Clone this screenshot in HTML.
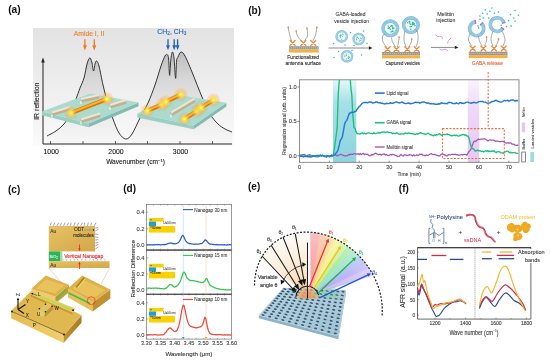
<!DOCTYPE html>
<html><head><meta charset="utf-8"><style>
html,body{margin:0;padding:0;background:#fff;width:550px;height:362px;overflow:hidden}
svg{display:block;font-family:"Liberation Sans", sans-serif;filter:blur(0.35px)}
</style></head><body>
<svg width="550" height="362" viewBox="0 0 550 362">
<text x="8.2" y="12.9" font-size="10.2" fill="#111" text-anchor="start" font-weight="bold" >(a)</text><defs>
<linearGradient id="aBg" x1="0" y1="0" x2="0" y2="1">
<stop offset="0" stop-color="#e3e3e3"/><stop offset="0.5" stop-color="#eeeeee"/><stop offset="0.85" stop-color="#f6f6f6"/><stop offset="1" stop-color="#fbfbfb"/></linearGradient>
<linearGradient id="aFill" x1="0" y1="50" x2="0" y2="144" gradientUnits="userSpaceOnUse">
<stop offset="0" stop-color="#8a8a8a" stop-opacity="0.5"/><stop offset="0.3" stop-color="#a8a8a8" stop-opacity="0.32"/><stop offset="0.7" stop-color="#c8c8c8" stop-opacity="0.22"/><stop offset="1" stop-color="#e0e0e0" stop-opacity="0.1"/></linearGradient>
<radialGradient id="glow"><stop offset="0" stop-color="#ffffa0" stop-opacity="1"/><stop offset="0.28" stop-color="#ffee30" stop-opacity="0.85"/><stop offset="0.6" stop-color="#ffb050" stop-opacity="0.4"/><stop offset="1" stop-color="#ff8040" stop-opacity="0"/></radialGradient>
<linearGradient id="rod" x1="0" y1="0" x2="0" y2="1"><stop offset="0" stop-color="#ffd040"/><stop offset="0.5" stop-color="#e98a00"/><stop offset="1" stop-color="#b85a00"/></linearGradient>
</defs><rect x="33" y="28" width="201" height="118" fill="url(#aBg)"/><path d="M47.00,136.00 C48.50,135.17 53.17,133.00 56.00,131.00 C58.83,129.00 61.67,126.83 64.00,124.00 C66.33,121.17 68.00,118.17 70.00,114.00 C72.00,109.83 74.33,103.33 76.00,99.00 C77.67,94.67 78.67,91.50 80.00,88.00 C81.33,84.50 82.83,82.00 84.00,78.00 C85.17,74.00 86.05,67.33 87.00,64.00 C87.95,60.67 88.90,58.33 89.70,58.00 C90.50,57.67 91.17,59.83 91.80,62.00 C92.43,64.17 92.97,70.67 93.50,71.00 C94.03,71.33 94.50,65.67 95.00,64.00 C95.50,62.33 95.83,60.67 96.50,61.00 C97.17,61.33 97.92,62.00 99.00,66.00 C100.08,70.00 101.50,78.67 103.00,85.00 C104.50,91.33 106.33,98.33 108.00,104.00 C109.67,109.67 111.17,114.17 113.00,119.00 C114.83,123.83 116.87,129.67 119.00,133.00 C121.13,136.33 123.63,138.83 125.80,139.00 C127.97,139.17 129.63,137.50 132.00,134.00 C134.37,130.50 137.33,123.17 140.00,118.00 C142.67,112.83 145.50,108.50 148.00,103.00 C150.50,97.50 152.83,91.17 155.00,85.00 C157.17,78.83 159.33,70.83 161.00,66.00 C162.67,61.17 163.95,57.88 165.00,56.00 C166.05,54.12 166.70,54.20 167.30,54.70 C167.90,55.20 168.22,55.55 168.60,59.00 C168.98,62.45 169.23,75.23 169.60,75.40 C169.97,75.57 170.33,63.90 170.80,60.00 C171.27,56.10 171.87,52.33 172.40,52.00 C172.93,51.67 173.47,53.60 174.00,58.00 C174.53,62.40 175.17,77.90 175.60,78.40 C176.03,78.90 176.20,64.57 176.60,61.00 C177.00,57.43 177.27,58.50 178.00,57.00 C178.73,55.50 179.83,52.17 181.00,52.00 C182.17,51.83 183.17,52.67 185.00,56.00 C186.83,59.33 189.17,65.17 192.00,72.00 C194.83,78.83 199.00,90.00 202.00,97.00 C205.00,104.00 207.33,109.50 210.00,114.00 C212.67,118.50 215.50,121.50 218.00,124.00 C220.50,126.50 222.67,127.67 225.00,129.00 C227.33,130.33 230.83,131.50 232.00,132.00 L232,144 L47,144 Z" fill="url(#aFill)"/><path d="M47.00,136.00 C48.50,135.17 53.17,133.00 56.00,131.00 C58.83,129.00 61.67,126.83 64.00,124.00 C66.33,121.17 68.00,118.17 70.00,114.00 C72.00,109.83 74.33,103.33 76.00,99.00 C77.67,94.67 78.67,91.50 80.00,88.00 C81.33,84.50 82.83,82.00 84.00,78.00 C85.17,74.00 86.05,67.33 87.00,64.00 C87.95,60.67 88.90,58.33 89.70,58.00 C90.50,57.67 91.17,59.83 91.80,62.00 C92.43,64.17 92.97,70.67 93.50,71.00 C94.03,71.33 94.50,65.67 95.00,64.00 C95.50,62.33 95.83,60.67 96.50,61.00 C97.17,61.33 97.92,62.00 99.00,66.00 C100.08,70.00 101.50,78.67 103.00,85.00 C104.50,91.33 106.33,98.33 108.00,104.00 C109.67,109.67 111.17,114.17 113.00,119.00 C114.83,123.83 116.87,129.67 119.00,133.00 C121.13,136.33 123.63,138.83 125.80,139.00 C127.97,139.17 129.63,137.50 132.00,134.00 C134.37,130.50 137.33,123.17 140.00,118.00 C142.67,112.83 145.50,108.50 148.00,103.00 C150.50,97.50 152.83,91.17 155.00,85.00 C157.17,78.83 159.33,70.83 161.00,66.00 C162.67,61.17 163.95,57.88 165.00,56.00 C166.05,54.12 166.70,54.20 167.30,54.70 C167.90,55.20 168.22,55.55 168.60,59.00 C168.98,62.45 169.23,75.23 169.60,75.40 C169.97,75.57 170.33,63.90 170.80,60.00 C171.27,56.10 171.87,52.33 172.40,52.00 C172.93,51.67 173.47,53.60 174.00,58.00 C174.53,62.40 175.17,77.90 175.60,78.40 C176.03,78.90 176.20,64.57 176.60,61.00 C177.00,57.43 177.27,58.50 178.00,57.00 C178.73,55.50 179.83,52.17 181.00,52.00 C182.17,51.83 183.17,52.67 185.00,56.00 C186.83,59.33 189.17,65.17 192.00,72.00 C194.83,78.83 199.00,90.00 202.00,97.00 C205.00,104.00 207.33,109.50 210.00,114.00 C212.67,118.50 215.50,121.50 218.00,124.00 C220.50,126.50 222.67,127.67 225.00,129.00 C227.33,130.33 230.83,131.50 232.00,132.00" fill="none" stroke="#2a2a2a" stroke-width="0.95"/><path d="M43,144 H232 M43,144 V61" stroke="#222" stroke-width="1.0" fill="none"/><path d="M43,57.5 L41.2,62.5 L44.8,62.5 Z" fill="#222"/><path d="M50.5,144 V141" stroke="#222" stroke-width="0.7"/><path d="M83,144 V141" stroke="#222" stroke-width="0.7"/><path d="M115.5,144 V141" stroke="#222" stroke-width="0.7"/><path d="M147.5,144 V141" stroke="#222" stroke-width="0.7"/><path d="M180,144 V141" stroke="#222" stroke-width="0.7"/><path d="M212.5,144 V141" stroke="#222" stroke-width="0.7"/><text x="51.2" y="154.0" font-size="6.9" fill="#222" text-anchor="middle" font-weight="normal"  stroke="#222" stroke-width="0.1">1000</text><text x="116" y="154.0" font-size="6.9" fill="#222" text-anchor="middle" font-weight="normal"  stroke="#222" stroke-width="0.1">2000</text><text x="180.5" y="154.0" font-size="6.9" fill="#222" text-anchor="middle" font-weight="normal"  stroke="#222" stroke-width="0.1">3000</text><text x="135.6" y="164.4" font-size="6.6" fill="#222" text-anchor="middle" font-weight="normal"  stroke="#222" stroke-width="0.1">Wavenumber (cm<tspan font-size="4.3" dy="-2.5">−1</tspan><tspan dy="2.5">)</tspan></text><text x="0" y="0" font-size="7.0" fill="#222" text-anchor="middle" font-weight="normal" transform="translate(38.9,101.2) rotate(-90)" stroke="#222" stroke-width="0.1">IR reflection</text><text x="89" y="35.6" font-size="6.8" fill="#ee7d22" text-anchor="middle" font-weight="normal"  stroke="#ee7d22" stroke-width="0.1">Amide I, II</text><path d="M84.9,39.3 V46" stroke="#ee7d22" stroke-width="1.35"/><path d="M84.9,50.4 L82.9,45.3 L86.9,45.3 Z" fill="#ee7d22"/><path d="M94.3,39.3 V46" stroke="#ee7d22" stroke-width="1.35"/><path d="M94.3,50.4 L92.3,45.3 L96.3,45.3 Z" fill="#ee7d22"/><text x="171.8" y="33.5" font-size="6.7" fill="#2163b4" text-anchor="middle" font-weight="normal" stroke="#2163b4" stroke-width="0.1" textLength="29" lengthAdjust="spacingAndGlyphs">CH<tspan font-size="4.6" dy="1.9">2</tspan><tspan dy="-1.9">, CH</tspan><tspan font-size="4.6" dy="1.9">3</tspan></text><path d="M168,39.3 V46" stroke="#2163b4" stroke-width="1.35"/><path d="M168,50.2 L166.1,45.2 L169.9,45.2 Z" fill="#2163b4"/><path d="M174.2,39.3 V46" stroke="#2163b4" stroke-width="1.35"/><path d="M174.2,50.2 L172.29999999999998,45.2 L176.1,45.2 Z" fill="#2163b4"/><path d="M177.6,39.3 V46" stroke="#2163b4" stroke-width="1.35"/><path d="M177.6,50.2 L175.7,45.2 L179.5,45.2 Z" fill="#2163b4"/><polygon points="42.0,111.5 88.5,123.5 88.5,127.3 42.0,115.3" fill="#98d0c3"/><polygon points="88.5,123.5 138.5,102.5 138.5,106.3 88.5,127.3" fill="#82bcb0"/><polygon points="42.0,111.5 90.0,93.5 138.5,102.5 88.5,123.5" fill="#acdacd"/><line x1="52" y1="114.1" x2="70" y2="108.6" stroke="#c2ae90" stroke-width="4.0"/><line x1="52" y1="114.5" x2="52" y2="117.5" stroke="#fff" stroke-width="1"/><line x1="52" y1="112.5" x2="70" y2="107.0" stroke="#efe5d2" stroke-width="2.0"/><line x1="81" y1="100.6" x2="99" y2="96.6" stroke="#c2ae90" stroke-width="4.0"/><line x1="81" y1="101" x2="81" y2="104" stroke="#fff" stroke-width="1"/><line x1="81" y1="99.0" x2="99" y2="95.0" stroke="#efe5d2" stroke-width="2.0"/><line x1="110" y1="106.6" x2="126" y2="101.6" stroke="#c2ae90" stroke-width="4.0"/><line x1="110" y1="107" x2="110" y2="110" stroke="#fff" stroke-width="1"/><line x1="110" y1="105.0" x2="126" y2="100.0" stroke="#efe5d2" stroke-width="2.0"/><line x1="81" y1="121.1" x2="100" y2="115.1" stroke="#c2ae90" stroke-width="4.0"/><line x1="81" y1="121.5" x2="81" y2="124.5" stroke="#fff" stroke-width="1"/><line x1="81" y1="119.5" x2="100" y2="113.5" stroke="#efe5d2" stroke-width="2.0"/><line x1="71" y1="113" x2="107" y2="99" stroke="#d87400" stroke-width="4.2" stroke-linecap="round"/><line x1="71" y1="112.5" x2="107" y2="98.5" stroke="#ffb020" stroke-width="2.0999999999999996" stroke-linecap="round"/><circle cx="71" cy="113" r="7.2" fill="url(#glow)"/><circle cx="107" cy="99" r="7.2" fill="url(#glow)"/><polygon points="137.3,113.6 193.6,125.5 193.6,129.3 137.3,117.4" fill="#98d0c3"/><polygon points="193.6,125.5 226.4,102.7 226.4,106.5 193.6,129.3" fill="#82bcb0"/><polygon points="137.3,113.6 175.5,94.5 226.4,102.7 193.6,125.5" fill="#acdacd"/><line x1="171" y1="114.19999999999999" x2="194.5" y2="100.19999999999999" stroke="#c2ae90" stroke-width="4.0"/><line x1="171" y1="114.6" x2="171" y2="117.6" stroke="#fff" stroke-width="1"/><line x1="171" y1="112.6" x2="194.5" y2="98.6" stroke="#efe5d2" stroke-width="2.0"/><line x1="147.3" y1="110.9" x2="162" y2="104.6" stroke="#d87400" stroke-width="4.2" stroke-linecap="round"/><line x1="147.3" y1="110.4" x2="162" y2="104.1" stroke="#ffb020" stroke-width="2.0999999999999996" stroke-linecap="round"/><circle cx="147.3" cy="110.9" r="7.2" fill="url(#glow)"/><circle cx="162" cy="104.6" r="7.2" fill="url(#glow)"/><line x1="166" y1="101.8" x2="180.9" y2="94.5" stroke="#d87400" stroke-width="4.2" stroke-linecap="round"/><line x1="166" y1="101.3" x2="180.9" y2="94.0" stroke="#ffb020" stroke-width="2.0999999999999996" stroke-linecap="round"/><circle cx="166" cy="101.8" r="7.2" fill="url(#glow)"/><circle cx="180.9" cy="94.5" r="7.2" fill="url(#glow)"/><line x1="184.5" y1="119.1" x2="197" y2="111" stroke="#d87400" stroke-width="4.2" stroke-linecap="round"/><line x1="184.5" y1="118.6" x2="197" y2="110.5" stroke="#ffb020" stroke-width="2.0999999999999996" stroke-linecap="round"/><circle cx="184.5" cy="119.1" r="7.2" fill="url(#glow)"/><circle cx="197" cy="111" r="7.2" fill="url(#glow)"/><line x1="201" y1="107.8" x2="213.6" y2="100" stroke="#d87400" stroke-width="4.2" stroke-linecap="round"/><line x1="201" y1="107.3" x2="213.6" y2="99.5" stroke="#ffb020" stroke-width="2.0999999999999996" stroke-linecap="round"/><circle cx="201" cy="107.8" r="7.2" fill="url(#glow)"/><circle cx="213.6" cy="100" r="7.2" fill="url(#glow)"/><text x="248.2" y="14.3" font-size="10" fill="#111" text-anchor="start" font-weight="bold" >(b)</text><defs>
<radialGradient id="vesIn"><stop offset="0" stop-color="#ffffff"/><stop offset="1" stop-color="#dff0f7"/></radialGradient>
<linearGradient id="cyanBand" x1="0" y1="0" x2="0" y2="1"><stop offset="0" stop-color="#e4f6f9"/><stop offset="0.28" stop-color="#a6dfe8"/><stop offset="1" stop-color="#8dd4df"/></linearGradient>
<linearGradient id="purBand" x1="0" y1="0" x2="0" y2="1"><stop offset="0" stop-color="#faf3fd"/><stop offset="0.35" stop-color="#eed8f7"/><stop offset="1" stop-color="#e6c8f3"/></linearGradient>
</defs><rect x="289" y="46.2" width="29.600000000000023" height="3.4" fill="#9a9a9a"/><path d="M289,47.900000000000006 H318.6" stroke="#c8c8c8" stroke-width="0.9" stroke-dasharray="1,1"/><rect x="289" y="49.6" width="29.600000000000023" height="3" fill="#f7b23b"/><path d="M291.50,41.00 C291.25,40.17 290.48,37.83 290.00,36.00 C289.52,34.17 288.88,31.40 288.60,30.00 C288.32,28.60 288.35,28.00 288.30,27.60" stroke="#6e6e6e" stroke-width="0.6" fill="none"/><ellipse cx="288.3" cy="27.4" rx="0.8" ry="1.1" fill="#ef8a3a"/><path d="M301.50,41.00 C300.92,40.33 298.83,38.33 298.00,37.00 C297.17,35.67 296.80,33.97 296.50,33.00 C296.20,32.03 296.25,31.50 296.20,31.20" stroke="#6e6e6e" stroke-width="0.6" fill="none"/><ellipse cx="296.2" cy="31" rx="0.8" ry="1.1" fill="#ef8a3a"/><path d="M304.50,41.00 C305.00,40.17 307.03,37.67 307.50,36.00 C307.97,34.33 307.38,32.25 307.30,31.00 C307.22,29.75 307.05,28.92 307.00,28.50" stroke="#6e6e6e" stroke-width="0.6" fill="none"/><ellipse cx="307" cy="28.3" rx="0.8" ry="1.1" fill="#ef8a3a"/><path d="M313.00,41.00 C313.42,40.00 314.92,36.83 315.50,35.00 C316.08,33.17 316.28,31.23 316.50,30.00 C316.72,28.77 316.75,28.00 316.80,27.60" stroke="#6e6e6e" stroke-width="0.6" fill="none"/><ellipse cx="316.8" cy="27.4" rx="0.8" ry="1.1" fill="#ef8a3a"/><path d="M290.1,40.4 L295.1,45.4 M295.1,40.4 L290.1,45.4" stroke="#ef8a3a" stroke-width="1.35" stroke-linecap="round"/><path d="M300.8,40.4 L305.8,45.4 M305.8,40.4 L300.8,45.4" stroke="#ef8a3a" stroke-width="1.35" stroke-linecap="round"/><path d="M310.7,40.4 L315.7,45.4 M315.7,40.4 L310.7,45.4" stroke="#ef8a3a" stroke-width="1.35" stroke-linecap="round"/><text x="303.2" y="58.9" font-size="6.0" fill="#222" text-anchor="middle" font-weight="normal" textLength="31.8" lengthAdjust="spacingAndGlyphs" stroke="#222" stroke-width="0.1">Functionalized</text><text x="303.2" y="65.1" font-size="6.0" fill="#222" text-anchor="middle" font-weight="normal" textLength="35.5" lengthAdjust="spacingAndGlyphs" stroke="#222" stroke-width="0.1">antenna surface</text><text x="350.5" y="15.8" font-size="5.8" fill="#333" text-anchor="middle" font-weight="normal" textLength="30" lengthAdjust="spacingAndGlyphs" stroke="#333" stroke-width="0.07">GABA-loaded</text><text x="351.6" y="22.6" font-size="5.8" fill="#333" text-anchor="middle" font-weight="normal" textLength="34.8" lengthAdjust="spacingAndGlyphs" stroke="#333" stroke-width="0.07">vesicle injection</text><path d="M328.5,48 H369.5" stroke="#8a8a8a" stroke-width="1.0"/><path d="M372.5,48 L368.9,46.3 L368.9,49.7 Z" fill="#222"/><circle cx="341.7" cy="36.4" r="5.04" fill="none" stroke="#6fb3d8" stroke-width="2.52"/><circle cx="341.7" cy="36.4" r="4.41" fill="none" stroke="#d4eaf5" stroke-width="0.4"/><circle cx="341.7" cy="36.4" r="5.04" fill="none" stroke="#d4eaf5" stroke-width="0.4"/><circle cx="341.7" cy="36.4" r="5.67" fill="none" stroke="#d4eaf5" stroke-width="0.4"/><circle cx="341.7" cy="36.4" r="3.78" fill="#eef7fb"/><circle cx="339.99" cy="35.58" r="0.50" fill="#1fbf86"/><circle cx="340.54" cy="35.78" r="0.50" fill="#1fbf86"/><circle cx="342.71" cy="33.97" r="0.50" fill="#1fbf86"/><circle cx="341.04" cy="35.45" r="0.50" fill="#1fbf86"/><circle cx="340.05" cy="36.19" r="0.50" fill="#1fbf86"/><circle cx="341.70" cy="39.23" r="0.50" fill="#1fbf86"/><circle cx="342.31" cy="36.38" r="0.50" fill="#1fbf86"/><circle cx="343.13" cy="34.66" r="0.50" fill="#1fbf86"/><circle cx="340.57" cy="37.45" r="0.50" fill="#1fbf86"/><circle cx="340.81" cy="34.66" r="0.50" fill="#1fbf86"/><circle cx="358.7" cy="39" r="5.04" fill="none" stroke="#6fb3d8" stroke-width="2.52"/><circle cx="358.7" cy="39" r="4.41" fill="none" stroke="#d4eaf5" stroke-width="0.4"/><circle cx="358.7" cy="39" r="5.04" fill="none" stroke="#d4eaf5" stroke-width="0.4"/><circle cx="358.7" cy="39" r="5.67" fill="none" stroke="#d4eaf5" stroke-width="0.4"/><circle cx="358.7" cy="39" r="3.78" fill="#eef7fb"/><circle cx="356.63" cy="39.64" r="0.50" fill="#1fbf86"/><circle cx="360.45" cy="38.09" r="0.50" fill="#1fbf86"/><circle cx="356.48" cy="38.89" r="0.50" fill="#1fbf86"/><circle cx="359.53" cy="40.90" r="0.50" fill="#1fbf86"/><circle cx="356.93" cy="37.12" r="0.50" fill="#1fbf86"/><circle cx="360.03" cy="39.89" r="0.50" fill="#1fbf86"/><circle cx="360.90" cy="40.41" r="0.50" fill="#1fbf86"/><circle cx="358.49" cy="38.44" r="0.50" fill="#1fbf86"/><circle cx="361.53" cy="38.67" r="0.50" fill="#1fbf86"/><circle cx="357.41" cy="37.13" r="0.50" fill="#1fbf86"/><circle cx="347" cy="56.2" r="5.04" fill="none" stroke="#6fb3d8" stroke-width="2.52"/><circle cx="347" cy="56.2" r="4.41" fill="none" stroke="#d4eaf5" stroke-width="0.4"/><circle cx="347" cy="56.2" r="5.04" fill="none" stroke="#d4eaf5" stroke-width="0.4"/><circle cx="347" cy="56.2" r="5.67" fill="none" stroke="#d4eaf5" stroke-width="0.4"/><circle cx="347" cy="56.2" r="3.78" fill="#eef7fb"/><circle cx="344.68" cy="56.58" r="0.50" fill="#1fbf86"/><circle cx="346.45" cy="55.25" r="0.50" fill="#1fbf86"/><circle cx="348.77" cy="56.32" r="0.50" fill="#1fbf86"/><circle cx="346.61" cy="58.78" r="0.50" fill="#1fbf86"/><circle cx="346.18" cy="54.11" r="0.50" fill="#1fbf86"/><circle cx="344.80" cy="55.36" r="0.50" fill="#1fbf86"/><circle cx="348.18" cy="57.72" r="0.50" fill="#1fbf86"/><circle cx="348.45" cy="58.55" r="0.50" fill="#1fbf86"/><circle cx="349.45" cy="57.15" r="0.50" fill="#1fbf86"/><circle cx="349.14" cy="57.28" r="0.50" fill="#1fbf86"/><circle cx="333.5" cy="43.5" r="0.75" fill="#25c48e"/><circle cx="350.5" cy="32.5" r="0.75" fill="#25c48e"/><circle cx="363.5" cy="31.0" r="0.75" fill="#25c48e"/><circle cx="354.0" cy="45.5" r="0.75" fill="#25c48e"/><circle cx="338.5" cy="51.5" r="0.75" fill="#25c48e"/><circle cx="361.5" cy="55.0" r="0.75" fill="#25c48e"/><circle cx="334.0" cy="57.5" r="0.75" fill="#25c48e"/><circle cx="352.0" cy="50.5" r="0.75" fill="#25c48e"/><circle cx="367.0" cy="43.5" r="0.75" fill="#25c48e"/><circle cx="345.0" cy="45.0" r="0.75" fill="#25c48e"/><rect x="382" y="52" width="38" height="3.4" fill="#9a9a9a"/><path d="M382,53.7 H420" stroke="#c8c8c8" stroke-width="0.9" stroke-dasharray="1,1"/><rect x="382" y="55.4" width="38" height="3" fill="#f7b23b"/><circle cx="390.3" cy="28.3" r="7.2" fill="none" stroke="#6fb3d8" stroke-width="3.6"/><circle cx="390.3" cy="28.3" r="6.30" fill="none" stroke="#d4eaf5" stroke-width="0.4"/><circle cx="390.3" cy="28.3" r="7.20" fill="none" stroke="#d4eaf5" stroke-width="0.4"/><circle cx="390.3" cy="28.3" r="8.10" fill="none" stroke="#d4eaf5" stroke-width="0.4"/><circle cx="390.3" cy="28.3" r="5.3999999999999995" fill="#eef7fb"/><circle cx="392.05" cy="31.26" r="0.72" fill="#1fbf86"/><circle cx="388.40" cy="26.15" r="0.72" fill="#1fbf86"/><circle cx="391.08" cy="31.90" r="0.72" fill="#1fbf86"/><circle cx="391.35" cy="25.53" r="0.72" fill="#1fbf86"/><circle cx="388.29" cy="28.24" r="0.72" fill="#1fbf86"/><circle cx="392.82" cy="28.35" r="0.72" fill="#1fbf86"/><circle cx="389.36" cy="27.74" r="0.72" fill="#1fbf86"/><circle cx="390.84" cy="26.38" r="0.72" fill="#1fbf86"/><circle cx="390.39" cy="29.15" r="0.72" fill="#1fbf86"/><circle cx="393.86" cy="28.23" r="0.72" fill="#1fbf86"/><circle cx="392.59" cy="26.00" r="0.72" fill="#1fbf86"/><circle cx="392.62" cy="28.80" r="0.72" fill="#1fbf86"/><circle cx="388.89" cy="28.32" r="0.72" fill="#1fbf86"/><circle cx="392.70" cy="27.55" r="0.72" fill="#1fbf86"/><circle cx="392.41" cy="31.39" r="0.72" fill="#1fbf86"/><circle cx="393.12" cy="31.12" r="0.72" fill="#1fbf86"/><circle cx="410.9" cy="25.1" r="7.2" fill="none" stroke="#6fb3d8" stroke-width="3.6"/><circle cx="410.9" cy="25.1" r="6.30" fill="none" stroke="#d4eaf5" stroke-width="0.4"/><circle cx="410.9" cy="25.1" r="7.20" fill="none" stroke="#d4eaf5" stroke-width="0.4"/><circle cx="410.9" cy="25.1" r="8.10" fill="none" stroke="#d4eaf5" stroke-width="0.4"/><circle cx="410.9" cy="25.1" r="5.3999999999999995" fill="#eef7fb"/><circle cx="412.40" cy="24.69" r="0.72" fill="#1fbf86"/><circle cx="414.99" cy="25.71" r="0.72" fill="#1fbf86"/><circle cx="411.48" cy="26.42" r="0.72" fill="#1fbf86"/><circle cx="409.48" cy="23.12" r="0.72" fill="#1fbf86"/><circle cx="412.43" cy="23.82" r="0.72" fill="#1fbf86"/><circle cx="413.16" cy="24.50" r="0.72" fill="#1fbf86"/><circle cx="407.68" cy="22.73" r="0.72" fill="#1fbf86"/><circle cx="409.32" cy="21.45" r="0.72" fill="#1fbf86"/><circle cx="410.66" cy="24.22" r="0.72" fill="#1fbf86"/><circle cx="413.23" cy="22.94" r="0.72" fill="#1fbf86"/><circle cx="410.23" cy="26.78" r="0.72" fill="#1fbf86"/><circle cx="412.75" cy="22.54" r="0.72" fill="#1fbf86"/><circle cx="414.27" cy="23.71" r="0.72" fill="#1fbf86"/><circle cx="413.92" cy="24.34" r="0.72" fill="#1fbf86"/><circle cx="409.86" cy="22.03" r="0.72" fill="#1fbf86"/><circle cx="410.69" cy="29.14" r="0.72" fill="#1fbf86"/><path d="M386.50,47.00 C385.92,46.17 383.67,43.75 383.00,42.00 C382.33,40.25 382.25,37.83 382.50,36.50 C382.75,35.17 384.17,34.42 384.50,34.00" stroke="#6e6e6e" stroke-width="0.6" fill="none"/><path d="M395.50,47.00 C395.00,46.17 393.17,43.58 392.50,42.00 C391.83,40.42 391.67,38.25 391.50,37.50" stroke="#6e6e6e" stroke-width="0.6" fill="none"/><path d="M397.50,47.00 C397.67,46.17 398.22,43.58 398.50,42.00 C398.78,40.42 399.08,38.25 399.20,37.50" stroke="#6e6e6e" stroke-width="0.6" fill="none"/><ellipse cx="399.2" cy="37.3" rx="0.8" ry="1.1" fill="#ef8a3a"/><path d="M406.00,47.00 C405.67,45.83 404.25,42.33 404.00,40.00 C403.75,37.67 404.33,34.50 404.50,33.00 C404.67,31.50 404.92,31.33 405.00,31.00" stroke="#6e6e6e" stroke-width="0.6" fill="none"/><path d="M408.50,47.00 C408.92,46.33 410.45,44.28 411.00,43.00 C411.55,41.72 411.67,39.92 411.80,39.30" stroke="#6e6e6e" stroke-width="0.6" fill="none"/><ellipse cx="411.8" cy="39.1" rx="0.8" ry="1.1" fill="#ef8a3a"/><path d="M416.00,47.00 C416.33,45.83 417.75,42.50 418.00,40.00 C418.25,37.50 417.92,33.67 417.50,32.00 C417.08,30.33 415.83,30.33 415.50,30.00" stroke="#6e6e6e" stroke-width="0.6" fill="none"/><path d="M385.1,46.7 L390.1,51.7 M390.1,46.7 L385.1,51.7" stroke="#ef8a3a" stroke-width="1.35" stroke-linecap="round"/><path d="M394.0,46.7 L399.0,51.7 M399.0,46.7 L394.0,51.7" stroke="#ef8a3a" stroke-width="1.35" stroke-linecap="round"/><path d="M404.8,46.7 L409.8,51.7 M409.8,46.7 L404.8,51.7" stroke="#ef8a3a" stroke-width="1.35" stroke-linecap="round"/><path d="M414.2,46.7 L419.2,51.7 M419.2,46.7 L414.2,51.7" stroke="#ef8a3a" stroke-width="1.35" stroke-linecap="round"/><text x="402.7" y="65.1" font-size="6.0" fill="#222" text-anchor="middle" font-weight="normal" textLength="34.6" lengthAdjust="spacingAndGlyphs" stroke="#222" stroke-width="0.1">Captured vesicles</text><text x="445.6" y="16.0" font-size="5.8" fill="#333" text-anchor="middle" font-weight="normal" textLength="16.9" lengthAdjust="spacingAndGlyphs" stroke="#333" stroke-width="0.07">Melittin</text><text x="445.8" y="22.4" font-size="5.8" fill="#333" text-anchor="middle" font-weight="normal" textLength="19.1" lengthAdjust="spacingAndGlyphs" stroke="#333" stroke-width="0.07">injection</text><path d="M431,47.4 H455.5" stroke="#8a8a8a" stroke-width="1.0"/><path d="M458.5,47.4 L454.9,45.699999999999996 L454.9,49.1 Z" fill="#222"/><path d="M435.5,34.5 q1.5,3 4,2 q2.5,-1 3.5,2.5" stroke="#d48de6" stroke-width="0.9" fill="none"/><path d="M447.5,43.5 q0,-3 3.5,-5.5" stroke="#d48de6" stroke-width="0.9" fill="none"/><path d="M439.5,49 q2.5,2 4.5,0.5 q2,-1.2 4,1.5" stroke="#d48de6" stroke-width="0.9" fill="none"/><rect x="468.8" y="51.7" width="38.69999999999999" height="3.4" fill="#9a9a9a"/><path d="M468.8,53.400000000000006 H507.5" stroke="#c8c8c8" stroke-width="0.9" stroke-dasharray="1,1"/><rect x="468.8" y="55.1" width="38.69999999999999" height="3" fill="#f7b23b"/><path d="M481.58,23.62 A7.040000000000001,7.040000000000001 0 1 1 475.38,21.67" fill="none" stroke="#6fb3d8" stroke-width="3.5200000000000005" /><path d="M480.96,24.24 A6.16,6.16 0 1 1 475.53,22.53" fill="none" stroke="#d4eaf5" stroke-width="0.4" /><path d="M481.58,23.62 A7.040000000000001,7.040000000000001 0 1 1 475.38,21.67" fill="none" stroke="#d4eaf5" stroke-width="0.4" /><path d="M482.20,23.00 A7.920000000000001,7.920000000000001 0 1 1 475.22,20.80" fill="none" stroke="#d4eaf5" stroke-width="0.4" /><path d="M475.76,23.83 L475.07,19.93" stroke="#b468d6" stroke-width="1.3"/><path d="M480.02,25.18 L482.82,22.38" stroke="#b468d6" stroke-width="1.3"/><path d="M502.84,28.55 A6.88,6.88 0 1 1 503.85,22.82" fill="none" stroke="#6fb3d8" stroke-width="3.44" /><path d="M502.13,28.05 A6.02,6.02 0 1 1 503.01,23.04" fill="none" stroke="#d4eaf5" stroke-width="0.4" /><path d="M502.84,28.55 A6.88,6.88 0 1 1 503.85,22.82" fill="none" stroke="#d4eaf5" stroke-width="0.4" /><path d="M503.54,29.04 A7.74,7.74 0 1 1 504.68,22.60" fill="none" stroke="#d4eaf5" stroke-width="0.4" /><path d="M501.77,23.38 L505.51,22.37" stroke="#b468d6" stroke-width="1.3"/><path d="M501.07,27.31 L504.24,29.53" stroke="#b468d6" stroke-width="1.3"/><path d="M471.50,46.00 C471.00,45.00 468.83,41.83 468.50,40.00 C468.17,38.17 469.25,36.10 469.50,35.00 C469.75,33.90 469.92,33.67 470.00,33.40" stroke="#6e6e6e" stroke-width="0.6" fill="none"/><path d="M482.00,46.00 C481.58,45.17 480.08,42.50 479.50,41.00 C478.92,39.50 478.75,37.83 478.50,37.00 C478.25,36.17 478.08,36.17 478.00,36.00" stroke="#6e6e6e" stroke-width="0.6" fill="none"/><path d="M484.50,46.00 C484.83,45.17 486.15,42.43 486.50,41.00 C486.85,39.57 486.58,38.00 486.60,37.40" stroke="#6e6e6e" stroke-width="0.6" fill="none"/><ellipse cx="486.6" cy="37.2" rx="0.8" ry="1.1" fill="#ef8a3a"/><path d="M493.00,46.00 C492.67,45.00 491.17,42.00 491.00,40.00 C490.83,38.00 491.63,35.50 492.00,34.00 C492.37,32.50 493.00,31.50 493.20,31.00" stroke="#6e6e6e" stroke-width="0.6" fill="none"/><path d="M495.50,46.00 C495.83,45.50 497.00,44.10 497.50,43.00 C498.00,41.90 498.33,40.00 498.50,39.40" stroke="#6e6e6e" stroke-width="0.6" fill="none"/><ellipse cx="498.5" cy="39.2" rx="0.8" ry="1.1" fill="#ef8a3a"/><path d="M503.00,46.00 C503.33,45.00 504.92,42.00 505.00,40.00 C505.08,38.00 504.03,35.50 503.50,34.00 C502.97,32.50 502.08,31.50 501.80,31.00" stroke="#6e6e6e" stroke-width="0.6" fill="none"/><path d="M470.2,46.1 L475.2,51.1 M475.2,46.1 L470.2,51.1" stroke="#ef8a3a" stroke-width="1.35" stroke-linecap="round"/><path d="M480.9,46.1 L485.9,51.1 M485.9,46.1 L480.9,51.1" stroke="#ef8a3a" stroke-width="1.35" stroke-linecap="round"/><path d="M491.5,46.1 L496.5,51.1 M496.5,46.1 L491.5,51.1" stroke="#ef8a3a" stroke-width="1.35" stroke-linecap="round"/><path d="M501.2,46.1 L506.2,51.1 M506.2,46.1 L501.2,51.1" stroke="#ef8a3a" stroke-width="1.35" stroke-linecap="round"/><circle cx="485.2" cy="10.0" r="0.8" fill="#25c48e"/><circle cx="491.9" cy="8.0" r="0.8" fill="#25c48e"/><circle cx="489.9" cy="11.3" r="0.8" fill="#25c48e"/><circle cx="482.6" cy="13.3" r="0.8" fill="#25c48e"/><circle cx="487.2" cy="14.0" r="0.8" fill="#25c48e"/><circle cx="494.5" cy="13.3" r="0.8" fill="#25c48e"/><circle cx="498.5" cy="12.0" r="0.8" fill="#25c48e"/><circle cx="479.9" cy="16.0" r="0.8" fill="#25c48e"/><circle cx="483.2" cy="18.0" r="0.8" fill="#25c48e"/><circle cx="488.6" cy="18.0" r="0.8" fill="#25c48e"/><circle cx="480.0" cy="19.3" r="0.8" fill="#25c48e"/><circle cx="478.0" cy="26.0" r="0.8" fill="#25c48e"/><circle cx="478.6" cy="27.9" r="0.8" fill="#25c48e"/><circle cx="515.1" cy="10.6" r="0.8" fill="#25c48e"/><circle cx="518.4" cy="15.3" r="0.8" fill="#25c48e"/><circle cx="510.5" cy="14.6" r="0.8" fill="#25c48e"/><circle cx="513.8" cy="18.0" r="0.8" fill="#25c48e"/><circle cx="508.5" cy="20.6" r="0.8" fill="#25c48e"/><circle cx="515.1" cy="21.3" r="0.8" fill="#25c48e"/><circle cx="511.1" cy="25.9" r="0.8" fill="#25c48e"/><circle cx="506.5" cy="26.6" r="0.8" fill="#25c48e"/><circle cx="501.2" cy="25.2" r="0.8" fill="#25c48e"/><text x="487.4" y="65.1" font-size="6.0" fill="#ee5a3a" text-anchor="middle" font-weight="normal" textLength="31.3" lengthAdjust="spacingAndGlyphs" stroke="#ee5a3a" stroke-width="0.1">GABA release</text><rect x="333.0" y="80" width="23.3" height="82.3" fill="url(#cyanBand)"/><rect x="467.8" y="80" width="11.4" height="82.3" fill="url(#purBand)"/><rect x="299.5" y="79.8" width="219.5" height="82.5" fill="none" stroke="#7a7a7a" stroke-width="0.85"/><path d="M297.5,155.8 H299.5" stroke="#555" stroke-width="0.7"/><text x="296.8" y="157.8" font-size="5.6" fill="#333" text-anchor="end" font-weight="normal" textLength="8" lengthAdjust="spacingAndGlyphs" stroke="#333" stroke-width="0.07">0.0</text><path d="M297.5,121.4 H299.5" stroke="#555" stroke-width="0.7"/><text x="296.8" y="123.4" font-size="5.6" fill="#333" text-anchor="end" font-weight="normal" textLength="8" lengthAdjust="spacingAndGlyphs" stroke="#333" stroke-width="0.07">0.5</text><path d="M297.5,87.0 H299.5" stroke="#555" stroke-width="0.7"/><text x="296.8" y="89.00000000000001" font-size="5.6" fill="#333" text-anchor="end" font-weight="normal" textLength="8" lengthAdjust="spacingAndGlyphs" stroke="#333" stroke-width="0.07">1.0</text><path d="M299.5,162.3 V160.6" stroke="#555" stroke-width="0.6"/><text x="299.5" y="169.2" font-size="5.6" fill="#333" text-anchor="middle" font-weight="normal"  stroke="#333" stroke-width="0.07">0</text><path d="M329.4,162.3 V160.6" stroke="#555" stroke-width="0.6"/><text x="329.4" y="169.2" font-size="5.6" fill="#333" text-anchor="middle" font-weight="normal"  stroke="#333" stroke-width="0.07">10</text><path d="M359.3,162.3 V160.6" stroke="#555" stroke-width="0.6"/><text x="359.3" y="169.2" font-size="5.6" fill="#333" text-anchor="middle" font-weight="normal"  stroke="#333" stroke-width="0.07">20</text><path d="M389.2,162.3 V160.6" stroke="#555" stroke-width="0.6"/><text x="389.2" y="169.2" font-size="5.6" fill="#333" text-anchor="middle" font-weight="normal"  stroke="#333" stroke-width="0.07">30</text><path d="M419.1,162.3 V160.6" stroke="#555" stroke-width="0.6"/><text x="419.1" y="169.2" font-size="5.6" fill="#333" text-anchor="middle" font-weight="normal"  stroke="#333" stroke-width="0.07">40</text><path d="M449.0,162.3 V160.6" stroke="#555" stroke-width="0.6"/><text x="449.0" y="169.2" font-size="5.6" fill="#333" text-anchor="middle" font-weight="normal"  stroke="#333" stroke-width="0.07">50</text><path d="M478.9,162.3 V160.6" stroke="#555" stroke-width="0.6"/><text x="478.9" y="169.2" font-size="5.6" fill="#333" text-anchor="middle" font-weight="normal"  stroke="#333" stroke-width="0.07">60</text><path d="M508.8,162.3 V160.6" stroke="#555" stroke-width="0.6"/><text x="508.8" y="169.2" font-size="5.6" fill="#333" text-anchor="middle" font-weight="normal"  stroke="#333" stroke-width="0.07">70</text><text x="409.2" y="176.2" font-size="5.4" fill="#333" text-anchor="middle" font-weight="normal" textLength="23.5" lengthAdjust="spacingAndGlyphs" stroke="#333" stroke-width="0.07">Time (min)</text><text x="0" y="0" font-size="5.7" fill="#333" text-anchor="middle" font-weight="normal" transform="translate(286.4,121) rotate(-90)" textLength="68" lengthAdjust="spacingAndGlyphs" stroke="#333" stroke-width="0.07">Regression signal (arb. units)</text><defs><clipPath id="bclip"><rect x="299.5" y="79.8" width="219.5" height="82.5"/></clipPath></defs><g clip-path="url(#bclip)"><path d="M299.5,155.6 L300.5,155.2 L301.6,154.9 L302.6,154.5 L303.7,154.6 L304.7,154.3 L305.8,155.8 L306.8,155.8 L307.9,155.0 L308.9,155.1 L310.0,154.6 L311.0,155.8 L312.1,155.9 L313.1,156.3 L314.2,156.0 L315.2,155.8 L316.2,156.7 L317.3,156.8 L318.3,156.8 L319.4,155.7 L320.4,155.2 L321.5,156.1 L322.5,155.4 L323.6,156.2 L324.6,155.8 L325.7,156.5 L326.7,157.1 L327.8,155.9 L328.8,156.4 L329.8,156.7 L330.9,155.5 L331.9,154.9 L333.0,155.7 L334.0,154.9 L335.1,155.2 L336.1,155.1 L337.2,155.9 L338.2,155.1 L339.3,155.0 L340.3,154.5 L341.4,154.3 L342.4,155.2 L343.5,155.4 L344.5,155.8 L345.5,155.8 L346.6,155.9 L347.6,155.4 L348.7,154.4 L349.7,155.0 L350.8,154.1 L351.8,154.3 L352.9,154.4 L353.9,153.6 L355.0,153.7 L356.0,154.1 L357.1,154.1 L358.1,153.7 L359.2,154.6 L360.2,153.5 L361.2,154.6 L362.3,154.0 L363.3,153.4 L364.4,154.6 L365.4,154.0 L366.5,154.3 L367.5,154.2 L368.6,155.2 L369.6,155.7 L370.7,155.7 L371.7,154.4 L372.8,155.0 L373.8,154.3 L374.8,153.6 L375.9,153.1 L376.9,154.0 L378.0,154.5 L379.0,154.5 L380.1,154.1 L381.1,155.1 L382.2,154.6 L383.2,154.2 L384.3,153.9 L385.3,155.2 L386.4,154.4 L387.4,155.4 L388.5,155.6 L389.5,155.2 L390.5,154.4 L391.6,155.0 L392.6,154.3 L393.7,154.5 L394.7,155.1 L395.8,155.4 L396.8,155.9 L397.9,156.3 L398.9,156.5 L400.0,155.6 L401.0,154.5 L402.1,155.4 L403.1,156.1 L404.2,154.8 L405.2,154.9 L406.2,155.1 L407.3,155.6 L408.3,155.2 L409.4,154.6 L410.4,154.9 L411.5,155.1 L412.5,155.9 L413.6,154.8 L414.6,155.8 L415.7,155.5 L416.7,154.8 L417.8,155.6 L418.8,155.0 L419.8,154.2 L420.9,154.3 L421.9,154.1 L423.0,155.2 L424.0,155.3 L425.1,155.9 L426.1,154.9 L427.2,155.4 L428.2,155.4 L429.3,154.4 L430.3,154.0 L431.4,153.6 L432.4,154.3 L433.5,154.6 L434.5,154.4 L435.5,154.7 L436.6,155.3 L437.6,155.4 L438.7,155.9 L439.7,155.8 L440.8,154.7 L441.8,154.0 L442.9,154.2 L443.9,154.6 L445.0,155.1 L446.0,155.8 L447.1,155.9 L448.1,155.1 L449.1,154.5 L450.2,155.0 L451.2,154.5 L452.3,154.3 L453.3,154.3 L454.4,154.3 L455.4,154.2 L456.5,154.8 L457.5,154.6 L458.6,155.2 L459.6,155.2 L460.7,154.7 L461.7,154.5 L462.8,155.1 L463.8,154.3 L464.8,154.4 L465.9,154.5 L466.9,155.3 L468.0,153.2 L469.0,151.6 L470.1,150.3 L471.1,148.9 L472.2,145.7 L473.2,142.9 L474.3,141.2 L475.3,141.6 L476.4,140.8 L477.4,139.8 L478.5,139.0 L479.5,139.7 L480.5,139.2 L481.6,139.0 L482.6,139.2 L483.7,138.9 L484.7,138.8 L485.8,139.5 L486.8,140.0 L487.9,140.9 L488.9,140.2 L490.0,139.7 L491.0,140.2 L492.1,140.2 L493.1,140.2 L494.1,140.3 L495.2,141.4 L496.2,141.0 L497.3,141.2 L498.3,141.2 L499.4,141.7 L500.4,141.6 L501.5,141.3 L502.5,141.4 L503.6,141.3 L504.6,142.5 L505.7,143.0 L506.7,143.0 L507.8,142.6 L508.8,143.3 L509.8,142.9 L510.9,142.9 L511.9,144.0 L513.0,144.0 L514.0,144.4 L515.1,145.1 L516.1,145.4 L517.2,145.2 L518.2,145.4" stroke="#a553b8" stroke-width="1.25" fill="none" stroke-linejoin="round"/><path d="M299.5,155.7 L300.5,155.3 L301.6,155.7 L302.6,156.3 L303.7,157.0 L304.7,156.4 L305.8,156.4 L306.8,155.8 L307.9,156.2 L308.9,155.7 L310.0,156.3 L311.0,155.7 L312.1,155.5 L313.1,155.9 L314.2,155.9 L315.2,155.7 L316.2,156.4 L317.3,156.2 L318.3,155.7 L319.4,156.3 L320.4,155.7 L321.5,155.6 L322.5,155.2 L323.6,155.9 L324.6,156.7 L325.7,156.0 L326.7,155.5 L327.8,155.9 L328.8,156.6 L329.8,156.9 L330.9,156.4 L331.9,156.6 L333.0,155.7 L334.0,151.4 L335.1,143.3 L336.1,136.0 L337.2,127.3 L338.2,94.9 L339.3,79.7 L340.3,70.0 L341.4,70.0 L342.4,70.0 L343.5,70.0 L344.5,70.0 L345.5,70.0 L346.6,70.0 L347.6,70.0 L348.7,70.0 L349.7,70.0 L350.8,87.2 L351.8,95.4 L352.9,115.5 L353.9,127.4 L355.0,128.4 L356.0,131.6 L357.1,133.8 L358.1,133.5 L359.2,134.0 L360.2,134.1 L361.2,133.1 L362.3,132.8 L363.3,133.7 L364.4,133.0 L365.4,133.8 L366.5,133.8 L367.5,132.9 L368.6,132.8 L369.6,133.2 L370.7,133.4 L371.7,133.4 L372.8,133.9 L373.8,132.8 L374.8,133.6 L375.9,133.5 L376.9,133.0 L378.0,133.2 L379.0,132.4 L380.1,133.1 L381.1,132.3 L382.2,132.0 L383.2,132.1 L384.3,131.9 L385.3,132.5 L386.4,132.2 L387.4,132.0 L388.5,132.4 L389.5,132.7 L390.5,132.6 L391.6,132.9 L392.6,133.7 L393.7,133.1 L394.7,133.5 L395.8,133.4 L396.8,132.8 L397.9,133.5 L398.9,134.2 L400.0,134.4 L401.0,133.8 L402.1,133.8 L403.1,134.0 L404.2,133.8 L405.2,132.9 L406.2,133.5 L407.3,133.6 L408.3,132.9 L409.4,133.0 L410.4,133.6 L411.5,133.6 L412.5,133.7 L413.6,134.2 L414.6,134.2 L415.7,134.3 L416.7,133.6 L417.8,134.0 L418.8,133.7 L419.8,133.0 L420.9,132.7 L421.9,133.4 L423.0,133.5 L424.0,134.0 L425.1,134.2 L426.1,134.2 L427.2,133.7 L428.2,133.2 L429.3,134.0 L430.3,134.9 L431.4,134.8 L432.4,135.4 L433.5,135.8 L434.5,134.8 L435.5,135.3 L436.6,134.7 L437.6,134.9 L438.7,134.0 L439.7,133.7 L440.8,134.8 L441.8,135.3 L442.9,134.4 L443.9,134.4 L445.0,134.7 L446.0,134.3 L447.1,134.0 L448.1,134.4 L449.1,134.7 L450.2,135.5 L451.2,135.5 L452.3,135.9 L453.3,135.4 L454.4,135.1 L455.4,135.7 L456.5,135.2 L457.5,135.9 L458.6,136.2 L459.6,135.5 L460.7,135.5 L461.7,134.7 L462.8,134.7 L463.8,134.5 L464.8,135.4 L465.9,134.8 L466.9,136.1 L468.0,136.0 L469.0,138.2 L470.1,142.8 L471.1,146.8 L472.2,148.3 L473.2,148.9 L474.3,149.6 L475.3,151.2 L476.4,150.6 L477.4,150.2 L478.5,150.8 L479.5,150.6 L480.5,151.0 L481.6,151.5 L482.6,151.1 L483.7,152.0 L484.7,151.3 L485.8,150.6 L486.8,151.3 L487.9,150.7 L488.9,151.7 L490.0,151.1 L491.0,151.7 L492.1,150.9 L493.1,151.4 L494.1,150.8 L495.2,152.0 L496.2,152.6 L497.3,151.8 L498.3,151.6 L499.4,151.7 L500.4,152.6 L501.5,152.9 L502.5,152.8 L503.6,153.3 L504.6,152.0 L505.7,151.6 L506.7,151.1 L507.8,151.2 L508.8,151.9 L509.8,152.8 L510.9,152.2 L511.9,152.9 L513.0,152.6 L514.0,152.6 L515.1,152.5 L516.1,153.1 L517.2,153.5 L518.2,153.0" stroke="#19c27a" stroke-width="1.35" fill="none" stroke-linejoin="round"/><path d="M299.5,156.0 L300.5,156.4 L301.6,156.0 L302.6,156.5 L303.7,156.2 L304.7,156.2 L305.8,156.7 L306.8,156.3 L307.9,156.7 L308.9,156.5 L310.0,156.8 L311.0,157.0 L312.1,156.6 L313.1,155.8 L314.2,156.3 L315.2,156.5 L316.2,156.0 L317.3,155.3 L318.3,155.4 L319.4,155.7 L320.4,155.1 L321.5,156.0 L322.5,155.4 L323.6,155.9 L324.6,156.3 L325.7,156.6 L326.7,156.6 L327.8,155.8 L328.8,156.3 L329.8,156.0 L330.9,155.7 L331.9,155.9 L333.0,155.6 L334.0,155.1 L335.1,154.1 L336.1,153.0 L337.2,151.8 L338.2,149.2 L339.3,144.9 L340.3,140.5 L341.4,138.8 L342.4,136.6 L343.5,130.7 L344.5,124.7 L345.5,121.7 L346.6,120.8 L347.6,118.4 L348.7,115.1 L349.7,112.9 L350.8,113.0 L351.8,112.1 L352.9,112.4 L353.9,112.1 L355.0,111.5 L356.0,111.1 L357.1,109.2 L358.1,108.0 L359.2,106.5 L360.2,105.7 L361.2,104.6 L362.3,103.1 L363.3,102.8 L364.4,102.5 L365.4,102.5 L366.5,102.5 L367.5,102.7 L368.6,102.3 L369.6,101.9 L370.7,102.3 L371.7,102.3 L372.8,103.1 L373.8,102.7 L374.8,102.6 L375.9,102.0 L376.9,101.9 L378.0,102.6 L379.0,102.8 L380.1,102.6 L381.1,103.3 L382.2,103.2 L383.2,103.5 L384.3,103.8 L385.3,104.0 L386.4,103.2 L387.4,103.5 L388.5,103.6 L389.5,103.4 L390.5,102.7 L391.6,103.3 L392.6,103.2 L393.7,103.0 L394.7,102.4 L395.8,102.1 L396.8,101.9 L397.9,102.6 L398.9,102.8 L400.0,103.0 L401.0,102.4 L402.1,101.9 L403.1,102.8 L404.2,103.2 L405.2,103.4 L406.2,103.6 L407.3,103.3 L408.3,103.0 L409.4,103.2 L410.4,103.8 L411.5,103.5 L412.5,103.4 L413.6,103.1 L414.6,102.4 L415.7,102.3 L416.7,102.5 L417.8,102.5 L418.8,102.4 L419.8,103.2 L420.9,102.5 L421.9,102.2 L423.0,102.0 L424.0,101.9 L425.1,102.4 L426.1,102.7 L427.2,103.3 L428.2,102.9 L429.3,103.5 L430.3,103.8 L431.4,103.8 L432.4,103.9 L433.5,103.7 L434.5,104.0 L435.5,104.2 L436.6,104.1 L437.6,104.2 L438.7,103.8 L439.7,104.1 L440.8,103.1 L441.8,102.8 L442.9,103.3 L443.9,103.4 L445.0,103.4 L446.0,103.4 L447.1,103.7 L448.1,102.8 L449.1,102.2 L450.2,102.5 L451.2,102.6 L452.3,103.3 L453.3,103.6 L454.4,103.5 L455.4,103.6 L456.5,102.8 L457.5,103.3 L458.6,103.8 L459.6,102.8 L460.7,102.7 L461.7,103.3 L462.8,103.0 L463.8,103.6 L464.8,103.2 L465.9,102.4 L466.9,102.1 L468.0,102.1 L469.0,102.7 L470.1,102.9 L471.1,103.3 L472.2,102.7 L473.2,102.7 L474.3,102.3 L475.3,102.7 L476.4,103.0 L477.4,102.4 L478.5,101.8 L479.5,101.6 L480.5,101.5 L481.6,101.4 L482.6,101.4 L483.7,102.1 L484.7,102.1 L485.8,102.3 L486.8,102.9 L487.9,103.2 L488.9,103.0 L490.0,102.9 L491.0,102.2 L492.1,101.4 L493.1,101.6 L494.1,101.0 L495.2,100.5 L496.2,100.3 L497.3,100.9 L498.3,101.5 L499.4,101.8 L500.4,102.0 L501.5,102.1 L502.5,101.5 L503.6,100.8 L504.6,100.4 L505.7,100.7 L506.7,100.6 L507.8,100.3 L508.8,101.1 L509.8,100.8 L510.9,100.2 L511.9,100.1 L513.0,100.0 L514.0,100.4 L515.1,101.0 L516.1,100.5 L517.2,100.8 L518.2,100.4" stroke="#1f7cd0" stroke-width="1.45" fill="none" stroke-linejoin="round"/></g><path d="M374.9,93.1 H384.7" stroke="#1f7cd0" stroke-width="1.6"/><text x="386.5" y="94.8" font-size="5.0" fill="#333" text-anchor="start" font-weight="normal" textLength="21.9" lengthAdjust="spacingAndGlyphs" stroke="#333" stroke-width="0.07">Lipid signal</text><path d="M374.9,122.7 H384.7" stroke="#19c27a" stroke-width="1.6"/><text x="386.5" y="124.4" font-size="5.0" fill="#333" text-anchor="start" font-weight="normal" textLength="24.8" lengthAdjust="spacingAndGlyphs" stroke="#333" stroke-width="0.07">GABA signal</text><path d="M374.9,147 H384.7" stroke="#b070c0" stroke-width="1.6"/><text x="386.5" y="148.7" font-size="5.0" fill="#333" text-anchor="start" font-weight="normal" textLength="26.5" lengthAdjust="spacingAndGlyphs" stroke="#333" stroke-width="0.07">Melittin signal</text><path d="M488.2,72 V128.6" stroke="#f26a3a" stroke-width="1.05" stroke-dasharray="2,1.5"/><rect x="442.4" y="128.6" width="61.9" height="29.8" fill="none" stroke="#f26a3a" stroke-width="1.05" stroke-dasharray="2,1.5"/><rect x="521.8" y="152" width="3.7" height="10" fill="#fff" stroke="#333" stroke-width="0.6"/><rect x="521.8" y="122.4" width="3.4" height="9.9" fill="#e6c6f4"/><rect x="530.3" y="152" width="3.7" height="10" fill="#9bdde6"/><text x="0" y="0" font-size="4.4" fill="#333" text-anchor="middle" font-weight="normal" transform="translate(525.1,144) rotate(-90)" textLength="10.8" lengthAdjust="spacingAndGlyphs" stroke="#333" stroke-width="0.07">Buffer</text><text x="0" y="0" font-size="4.4" fill="#333" text-anchor="middle" font-weight="normal" transform="translate(525.1,112.1) rotate(-90)" textLength="9.8" lengthAdjust="spacingAndGlyphs" stroke="#333" stroke-width="0.07">Melittin</text><text x="0" y="0" font-size="4.4" fill="#333" text-anchor="middle" font-weight="normal" transform="translate(533.6,133.7) rotate(-90)" textLength="29.6" lengthAdjust="spacingAndGlyphs" stroke="#333" stroke-width="0.07">Loaded vesicles</text><text x="8" y="192.6" font-size="10" fill="#111" text-anchor="start" font-weight="bold" >(c)</text><defs>
<linearGradient id="au1" x1="0" y1="0" x2="1" y2="1"><stop offset="0" stop-color="#e6c264"/><stop offset="1" stop-color="#d3a748"/></linearGradient>
<linearGradient id="auTop" x1="0" y1="0" x2="1" y2="1"><stop offset="0" stop-color="#e6b84a"/><stop offset="0.5" stop-color="#dcae45"/><stop offset="1" stop-color="#c89530"/></linearGradient>
<linearGradient id="auSideL" x1="0" y1="0" x2="1" y2="0"><stop offset="0" stop-color="#e6bb50"/><stop offset="1" stop-color="#f2cf6a"/></linearGradient>
<linearGradient id="auSideR" x1="0" y1="0" x2="1" y2="0"><stop offset="0" stop-color="#c4922e"/><stop offset="1" stop-color="#a87a1e"/></linearGradient>
</defs><rect x="48.8" y="226" width="46.2" height="25.4" fill="url(#au1)"/><rect x="48.8" y="251.4" width="11.7" height="9.9" fill="#2db45a"/><rect x="60.5" y="251.4" width="1.8" height="9.9" fill="#9bd89a"/><rect x="48.8" y="261.2" width="60.7" height="6.8" fill="url(#au1)"/><path d="M50.0,225.8 l1.3,-3.2" stroke="#6a4a6a" stroke-width="0.55"/><path d="M53.4,225.8 l1.5,-3.2" stroke="#6a4a6a" stroke-width="0.55"/><path d="M56.8,225.8 l2.1,-3.2" stroke="#6a4a6a" stroke-width="0.55"/><path d="M60.2,225.8 l1.3,-3.2" stroke="#6a4a6a" stroke-width="0.55"/><path d="M63.6,225.8 l1.4,-3.2" stroke="#6a4a6a" stroke-width="0.55"/><path d="M67.0,225.8 l1.5,-3.2" stroke="#6a4a6a" stroke-width="0.55"/><path d="M70.4,225.8 l0.8,-3.2" stroke="#6a4a6a" stroke-width="0.55"/><path d="M73.8,225.8 l1.4,-3.2" stroke="#6a4a6a" stroke-width="0.55"/><path d="M77.2,225.8 l1.6,-3.2" stroke="#6a4a6a" stroke-width="0.55"/><path d="M80.6,225.8 l1.8,-3.2" stroke="#6a4a6a" stroke-width="0.55"/><path d="M84.0,225.8 l0.7,-3.2" stroke="#6a4a6a" stroke-width="0.55"/><path d="M87.4,225.8 l1.0,-3.2" stroke="#6a4a6a" stroke-width="0.55"/><path d="M90.8,225.8 l0.7,-3.2" stroke="#6a4a6a" stroke-width="0.55"/><path d="M94.2,225.8 l1.9,-3.2" stroke="#6a4a6a" stroke-width="0.55"/><path d="M95.3,228.0 l3.0,-0.3" stroke="#6a4a6a" stroke-width="0.55"/><path d="M95.3,231.0 l3.0,-1.9" stroke="#6a4a6a" stroke-width="0.55"/><path d="M95.3,234.0 l3.0,0.5" stroke="#6a4a6a" stroke-width="0.55"/><path d="M95.3,237.0 l3.0,0.4" stroke="#6a4a6a" stroke-width="0.55"/><path d="M95.3,240.0 l3.0,-0.4" stroke="#6a4a6a" stroke-width="0.55"/><path d="M95.3,243.0 l3.0,-0.5" stroke="#6a4a6a" stroke-width="0.55"/><path d="M95.3,246.0 l3.0,-1.6" stroke="#6a4a6a" stroke-width="0.55"/><path d="M95.3,249.0 l3.0,-2.0" stroke="#6a4a6a" stroke-width="0.55"/><path d="M63.0,260.8 l0.1,-2" stroke="#8a5a9a" stroke-width="0.45"/><path d="M66.8,260.8 l-1.1,-2" stroke="#8a5a9a" stroke-width="0.45"/><path d="M70.6,260.8 l-0.7,-2" stroke="#8a5a9a" stroke-width="0.45"/><path d="M74.4,260.8 l-0.6,-2" stroke="#8a5a9a" stroke-width="0.45"/><path d="M78.2,260.8 l-1.1,-2" stroke="#8a5a9a" stroke-width="0.45"/><path d="M82.0,260.8 l-0.1,-2" stroke="#8a5a9a" stroke-width="0.45"/><path d="M85.8,260.8 l-0.1,-2" stroke="#8a5a9a" stroke-width="0.45"/><path d="M89.6,260.8 l0.8,-2" stroke="#8a5a9a" stroke-width="0.45"/><path d="M93.4,260.8 l0.0,-2" stroke="#8a5a9a" stroke-width="0.45"/><path d="M97.2,260.8 l0.3,-2" stroke="#8a5a9a" stroke-width="0.45"/><path d="M101.0,260.8 l-0.0,-2" stroke="#8a5a9a" stroke-width="0.45"/><path d="M104.8,260.8 l0.4,-2" stroke="#8a5a9a" stroke-width="0.45"/><text x="50.2" y="232.6" font-size="4.8" fill="#333" text-anchor="start" font-weight="normal"  stroke="#333" stroke-width="0.07">Au</text><text x="50.2" y="267.0" font-size="4.8" fill="#333" text-anchor="start" font-weight="normal"  stroke="#333" stroke-width="0.07">Au</text><text x="49.6" y="257.8" font-size="4.0" fill="#fff" text-anchor="start" font-weight="normal"  stroke="#fff" stroke-width="0.07">SiO<tspan font-size="2.8" dy="1">2</tspan></text><text x="74" y="231.4" font-size="4.9" fill="#222" text-anchor="start" font-weight="normal"  stroke="#222" stroke-width="0.07">ODT</text><path d="M84,230 H92" stroke="#777" stroke-width="0.5"/><circle cx="93.6" cy="230" r="0.8" fill="#111"/><text x="73.2" y="236.8" font-size="4.6" fill="#222" text-anchor="start" font-weight="normal"  stroke="#222" stroke-width="0.07">molecules</text><path d="M79.5,244.5 V249.5 M79.5,269 V263" stroke="#ee2222" stroke-width="0.8"/><path d="M79.5,251 l-1.3,-2.4 h2.6 Z M79.5,261.8 l-1.3,2.4 h2.6 Z" fill="#ee2222"/><text x="64.2" y="258.3" font-size="5.15" fill="#ee2020" text-anchor="start" font-weight="normal" stroke="#ee2020" stroke-width="0.12">Vertical Nanogap</text><path d="M48.8,268 L69.5,292 M109.5,268 L94,298" stroke="#f0a0a0" stroke-width="0.5"/><polygon points="11.2,310.8 63.6,335.6 63.6,343.1 11.2,318.3" fill="url(#auSideL)"/><polygon points="63.6,335.6 81.5,315.2 81.5,322.7 63.6,343.1" fill="url(#auSideR)"/><polygon points="11.2,310.8 34.1,288.2 70.4,309.6 81.5,315.2 63.6,335.6" fill="#e0b850"/><polygon points="31.5,288.5 55.2,296.7 55.2,303.7 31.5,295.5" fill="#efcd6e"/><polygon points="55.2,296.7 69.2,285.0 69.2,292.0 55.2,303.7" fill="#c89a36"/><polygon points="31.5,288.5 45.8,275.6 69.2,285.0 55.2,296.7" fill="#ddb24c"/><polygon points="36.0,288.6 45.8,279.2 64.5,285.6 55.2,293.2" fill="#e8c35c"/><path d="M66,289.5 L56.5,298.8" stroke="#4cc44a" stroke-width="1.2"/><polygon points="30.5,294.5 34.0,291.8 75.5,308.8 72.5,312.5" fill="#edc963"/><polygon points="30.5,294.5 72.5,312.5 72.5,314.5 30.5,296.5" fill="#c9992f"/><path d="M33,293.6 L73.6,310.6" stroke="#a6e05a" stroke-width="1.5"/><polygon points="38.5,310.0 47.0,302.5 53.0,305.0 44.5,312.8" fill="#e8c260"/><polygon points="38.5,310.0 44.5,312.8 44.5,317.5 38.5,314.5" fill="#eccb6c"/><polygon points="44.5,312.8 53.0,305.0 53.0,309.5 44.5,317.5" fill="#c49232"/><path d="M48,307 L43.2,315.3" stroke="#a6e05a" stroke-width="1.5"/><path d="M12,311.5 L64,334.5" stroke="#222" stroke-width="0.5"/><circle cx="12" cy="311.5" r="0.9" fill="#111"/><circle cx="64" cy="334.5" r="0.9" fill="#111"/><text x="34.3" y="326.5" font-size="4.6" fill="#222" text-anchor="middle" font-weight="normal"  stroke="#222" stroke-width="0.07">P</text><path d="M32.3,293.6 L37,295.5" stroke="#222" stroke-width="0.5"/><circle cx="32.3" cy="293.6" r="0.9" fill="#111"/><circle cx="73" cy="310.2" r="0.9" fill="#111"/><text x="39.4" y="296" font-size="4.6" fill="#222" text-anchor="middle" font-weight="normal"  stroke="#222" stroke-width="0.07">L</text><circle cx="45.5" cy="304.2" r="0.8" fill="#111"/><circle cx="52" cy="306.2" r="0.8" fill="#111"/><circle cx="39.4" cy="308.8" r="0.8" fill="#111"/><circle cx="45.5" cy="311.8" r="0.8" fill="#111"/><text x="56.6" y="310.4" font-size="4.6" fill="#222" text-anchor="middle" font-weight="normal"  stroke="#222" stroke-width="0.07">W</text><text x="38.7" y="316.2" font-size="4.6" fill="#222" text-anchor="middle" font-weight="normal"  stroke="#222" stroke-width="0.07">U</text><path d="M18,309.5 V299 M18,309.5 L25.5,304.5 M18,309.5 L24,313.5" stroke="#111" stroke-width="1.1"/><path d="M18,297.5 l-1.2,2.5 h2.4 Z" fill="#111"/><text x="0" y="0" font-size="4.6" fill="#222" text-anchor="middle" font-weight="normal" transform="translate(19.6,294.5) rotate(-90)" stroke="#222" stroke-width="0.07">Z</text><text x="27.6" y="303" font-size="4.6" fill="#222" text-anchor="middle" font-weight="normal"  stroke="#222" stroke-width="0.07">Y</text><text x="27.4" y="316.6" font-size="4.6" fill="#222" text-anchor="middle" font-weight="normal"  stroke="#222" stroke-width="0.07">X</text><polygon points="68.0,288.5 92.7,302.6 92.7,311.6 68.0,297.5" fill="#e6c05a"/><polygon points="92.7,302.6 110.3,289.6 110.3,298.6 92.7,311.6" fill="#bf902e"/><polygon points="68.0,288.5 82.2,275.6 110.3,289.6 92.7,302.6" fill="#dcb24c"/><polygon points="72.5,288.8 82.2,279.2 105.0,290.0 92.7,299.2" fill="#e8c25a"/><path d="M76.5,287.5 L84.5,277.8" stroke="#a8801e" stroke-width="2.2"/><path d="M77.5,287.8 L85.3,278.5" stroke="#f4dc6a" stroke-width="1.1"/><path d="M68.5,293 L90,303.5" stroke="#3cc24a" stroke-width="1.4"/><circle cx="91.2" cy="300.7" r="4" fill="none" stroke="#ee3322" stroke-width="0.7"/><text x="123.2" y="192.2" font-size="10" fill="#111" text-anchor="start" font-weight="bold" >(d)</text><rect x="146.4" y="204.4" width="85.19999999999999" height="45.400000000000006" fill="none" stroke="#808080" stroke-width="0.8"/><path d="M183.3,204.4 V249.8" stroke="#8fd0ea" stroke-width="0.45"/><path d="M206.0,204.4 V249.8" stroke="#e8c880" stroke-width="0.45"/><path d="M146.4,245.3 h1.5" stroke="#555" stroke-width="0.5"/><text x="144.6" y="247.4" font-size="5.8" fill="#333" text-anchor="end" font-weight="normal"  stroke="#333" stroke-width="0.07">0.0</text><path d="M146.4,228.8 h1.5" stroke="#555" stroke-width="0.5"/><text x="144.6" y="230.9" font-size="5.8" fill="#333" text-anchor="end" font-weight="normal"  stroke="#333" stroke-width="0.07">0.2</text><path d="M146.4,212.3 h1.5" stroke="#555" stroke-width="0.5"/><text x="144.6" y="214.4" font-size="5.8" fill="#333" text-anchor="end" font-weight="normal"  stroke="#333" stroke-width="0.07">0.4</text><path d="M146.4,249.8 v-1.2 M146.4,204.4 v1.2" stroke="#555" stroke-width="0.45"/><path d="M153.5,249.8 v-1.2 M153.5,204.4 v1.2" stroke="#555" stroke-width="0.45"/><path d="M160.6,249.8 v-1.2 M160.6,204.4 v1.2" stroke="#555" stroke-width="0.45"/><path d="M167.7,249.8 v-1.2 M167.7,204.4 v1.2" stroke="#555" stroke-width="0.45"/><path d="M174.8,249.8 v-1.2 M174.8,204.4 v1.2" stroke="#555" stroke-width="0.45"/><path d="M181.9,249.8 v-1.2 M181.9,204.4 v1.2" stroke="#555" stroke-width="0.45"/><path d="M189.0,249.8 v-1.2 M189.0,204.4 v1.2" stroke="#555" stroke-width="0.45"/><path d="M196.1,249.8 v-1.2 M196.1,204.4 v1.2" stroke="#555" stroke-width="0.45"/><path d="M203.2,249.8 v-1.2 M203.2,204.4 v1.2" stroke="#555" stroke-width="0.45"/><path d="M210.3,249.8 v-1.2 M210.3,204.4 v1.2" stroke="#555" stroke-width="0.45"/><path d="M217.4,249.8 v-1.2 M217.4,204.4 v1.2" stroke="#555" stroke-width="0.45"/><path d="M224.5,249.8 v-1.2 M224.5,204.4 v1.2" stroke="#555" stroke-width="0.45"/><path d="M231.6,249.8 v-1.2 M231.6,204.4 v1.2" stroke="#555" stroke-width="0.45"/><path d="M146.4,244.7 L147.0,244.7 L147.5,244.9 L148.1,244.9 L148.7,244.8 L149.2,244.9 L149.8,244.7 L150.4,244.9 L150.9,244.8 L151.5,244.8 L152.1,244.7 L152.6,244.8 L153.2,244.9 L153.8,244.7 L154.4,244.8 L154.9,244.9 L155.5,244.7 L156.1,244.6 L156.6,244.7 L157.2,244.6 L157.8,244.8 L158.3,244.7 L158.9,244.6 L159.5,244.7 L160.0,244.8 L160.6,244.9 L161.2,244.8 L161.7,244.7 L162.3,244.6 L162.9,244.6 L163.4,244.7 L164.0,244.5 L164.6,244.7 L165.1,244.4 L165.7,244.4 L166.3,244.4 L166.8,244.0 L167.4,243.9 L168.0,243.5 L168.6,243.3 L169.1,243.3 L169.7,243.0 L170.3,242.9 L170.8,243.2 L171.4,243.2 L172.0,243.2 L172.5,243.6 L173.1,243.6 L173.7,243.9 L174.2,243.7 L174.8,243.7 L175.4,243.8 L175.9,243.8 L176.5,243.5 L177.1,243.2 L177.6,242.8 L178.2,242.7 L178.8,242.1 L179.3,241.4 L179.9,240.6 L180.5,239.4 L181.0,238.3 L181.6,236.8 L182.2,235.8 L182.8,235.3 L183.3,235.8 L183.9,236.9 L184.5,238.3 L185.0,239.5 L185.6,240.6 L186.2,241.5 L186.7,242.1 L187.3,242.5 L187.9,242.9 L188.4,243.2 L189.0,243.6 L189.6,243.5 L190.1,243.6 L190.7,243.7 L191.3,243.9 L191.8,243.9 L192.4,244.0 L193.0,244.2 L193.5,244.2 L194.1,244.2 L194.7,244.3 L195.2,244.2 L195.8,244.2 L196.4,244.1 L197.0,244.2 L197.5,244.1 L198.1,244.2 L198.7,244.2 L199.2,244.0 L199.8,243.8 L200.4,243.7 L200.9,243.6 L201.5,243.6 L202.1,243.2 L202.6,242.8 L203.2,242.2 L203.8,241.5 L204.3,240.9 L204.9,240.0 L205.5,239.9 L206.0,240.2 L206.6,240.7 L207.2,241.7 L207.7,242.2 L208.3,243.0 L208.9,243.4 L209.4,243.5 L210.0,244.0 L210.6,244.0 L211.2,244.0 L211.7,244.2 L212.3,244.3 L212.9,244.5 L213.4,244.4 L214.0,244.5 L214.6,244.5 L215.1,244.6 L215.7,244.6 L216.3,244.5 L216.8,244.8 L217.4,244.8 L218.0,244.5 L218.5,244.8 L219.1,244.8 L219.7,244.8 L220.2,244.6 L220.8,244.6 L221.4,244.9 L221.9,244.8 L222.5,244.9 L223.1,244.8 L223.6,244.9 L224.2,244.7 L224.8,244.8 L225.4,244.9 L225.9,244.8 L226.5,245.0 L227.1,244.9 L227.6,244.6 L228.2,244.9 L228.8,244.9 L229.3,244.7 L229.9,244.7 L230.5,244.7 L231.0,244.9 L231.6,244.8" stroke="#2a5fc8" stroke-width="1.25" fill="none"/><path d="M183,209.6 H193" stroke="#2a5fc8" stroke-width="1.1"/><text x="194.3" y="211.5" font-size="5.4" fill="#333" text-anchor="start" font-weight="normal" textLength="33" lengthAdjust="spacingAndGlyphs" stroke="#333" stroke-width="0.07">Nanogap 30 nm</text><rect x="149" y="218.0" width="14.6" height="3.6" fill="#f7d200"/><rect x="149" y="221.6" width="7" height="4.4" fill="#1ea0e0"/><rect x="149" y="226.0" width="26" height="6.6" fill="#f7d200"/><text x="163.2" y="224.2" font-size="2.6" fill="#555" text-anchor="start" font-weight="normal" textLength="12.7" lengthAdjust="spacingAndGlyphs" stroke="#555" stroke-width="0.07">U=50 nm</text><text x="151.9" y="228.6" font-size="2.8" fill="#222" text-anchor="start" font-weight="normal" textLength="8.7" lengthAdjust="spacingAndGlyphs" stroke="#222" stroke-width="0.07">30 nm</text><circle cx="151" cy="219.8" r="0.6" fill="#222"/><circle cx="151" cy="226.8" r="0.6" fill="#222"/><rect x="146.4" y="250.2" width="85.19999999999999" height="44.0" fill="none" stroke="#808080" stroke-width="0.8"/><path d="M146.4,250.2 H231.6" stroke="#555" stroke-width="1.3"/><path d="M183.3,250.2 V294.2" stroke="#8fd0ea" stroke-width="0.45"/><path d="M206.0,250.2 V294.2" stroke="#e8c880" stroke-width="0.45"/><path d="M146.4,289.9 h1.5" stroke="#555" stroke-width="0.5"/><text x="144.6" y="292.0" font-size="5.8" fill="#333" text-anchor="end" font-weight="normal"  stroke="#333" stroke-width="0.07">0.0</text><path d="M146.4,273.9 h1.5" stroke="#555" stroke-width="0.5"/><text x="144.6" y="276.0" font-size="5.8" fill="#333" text-anchor="end" font-weight="normal"  stroke="#333" stroke-width="0.07">0.2</text><path d="M146.4,257.9 h1.5" stroke="#555" stroke-width="0.5"/><text x="144.6" y="260.0" font-size="5.8" fill="#333" text-anchor="end" font-weight="normal"  stroke="#333" stroke-width="0.07">0.4</text><path d="M146.4,294.2 v-1.2 M146.4,250.2 v1.2" stroke="#555" stroke-width="0.45"/><path d="M153.5,294.2 v-1.2 M153.5,250.2 v1.2" stroke="#555" stroke-width="0.45"/><path d="M160.6,294.2 v-1.2 M160.6,250.2 v1.2" stroke="#555" stroke-width="0.45"/><path d="M167.7,294.2 v-1.2 M167.7,250.2 v1.2" stroke="#555" stroke-width="0.45"/><path d="M174.8,294.2 v-1.2 M174.8,250.2 v1.2" stroke="#555" stroke-width="0.45"/><path d="M181.9,294.2 v-1.2 M181.9,250.2 v1.2" stroke="#555" stroke-width="0.45"/><path d="M189.0,294.2 v-1.2 M189.0,250.2 v1.2" stroke="#555" stroke-width="0.45"/><path d="M196.1,294.2 v-1.2 M196.1,250.2 v1.2" stroke="#555" stroke-width="0.45"/><path d="M203.2,294.2 v-1.2 M203.2,250.2 v1.2" stroke="#555" stroke-width="0.45"/><path d="M210.3,294.2 v-1.2 M210.3,250.2 v1.2" stroke="#555" stroke-width="0.45"/><path d="M217.4,294.2 v-1.2 M217.4,250.2 v1.2" stroke="#555" stroke-width="0.45"/><path d="M224.5,294.2 v-1.2 M224.5,250.2 v1.2" stroke="#555" stroke-width="0.45"/><path d="M231.6,294.2 v-1.2 M231.6,250.2 v1.2" stroke="#555" stroke-width="0.45"/><path d="M146.4,288.3 L147.0,288.1 L147.5,288.1 L148.1,288.3 L148.7,288.2 L149.2,288.2 L149.8,288.1 L150.4,288.1 L150.9,288.3 L151.5,288.3 L152.1,288.1 L152.6,288.2 L153.2,288.1 L153.8,288.3 L154.4,288.2 L154.9,288.1 L155.5,288.2 L156.1,288.0 L156.6,288.1 L157.2,288.3 L157.8,288.4 L158.3,288.2 L158.9,288.1 L159.5,288.4 L160.0,288.5 L160.6,288.5 L161.2,288.6 L161.7,288.6 L162.3,288.6 L162.9,288.7 L163.4,288.8 L164.0,288.8 L164.6,288.7 L165.1,288.6 L165.7,288.4 L166.3,288.2 L166.8,287.5 L167.4,287.0 L168.0,286.4 L168.6,285.9 L169.1,285.1 L169.7,284.7 L170.3,284.7 L170.8,284.6 L171.4,284.7 L172.0,285.1 L172.5,285.6 L173.1,286.3 L173.7,286.6 L174.2,287.0 L174.8,287.2 L175.4,287.0 L175.9,286.6 L176.5,286.2 L177.1,285.8 L177.6,285.1 L178.2,284.7 L178.8,283.9 L179.3,282.9 L179.9,282.0 L180.5,280.9 L181.0,279.4 L181.6,277.7 L182.2,276.0 L182.8,274.3 L183.3,272.9 L183.9,272.2 L184.5,272.3 L185.0,273.3 L185.6,274.6 L186.2,275.9 L186.7,277.3 L187.3,278.2 L187.9,278.8 L188.4,279.3 L189.0,279.8 L189.6,280.2 L190.1,280.4 L190.7,280.5 L191.3,280.4 L191.8,280.6 L192.4,280.7 L193.0,280.7 L193.5,280.9 L194.1,280.9 L194.7,280.8 L195.2,281.0 L195.8,281.2 L196.4,281.4 L197.0,281.4 L197.5,281.4 L198.1,281.9 L198.7,281.8 L199.2,281.9 L199.8,282.0 L200.4,282.2 L200.9,282.3 L201.5,282.5 L202.1,282.5 L202.6,282.4 L203.2,282.4 L203.8,281.8 L204.3,281.3 L204.9,280.6 L205.5,279.6 L206.0,278.7 L206.6,278.5 L207.2,279.2 L207.7,280.4 L208.3,281.8 L208.9,283.0 L209.4,284.1 L210.0,285.0 L210.6,285.5 L211.2,286.0 L211.7,286.2 L212.3,286.5 L212.9,286.9 L213.4,287.2 L214.0,287.4 L214.6,287.8 L215.1,287.8 L215.7,288.0 L216.3,288.4 L216.8,288.6 L217.4,288.7 L218.0,288.6 L218.5,288.9 L219.1,289.1 L219.7,289.0 L220.2,289.2 L220.8,289.4 L221.4,289.5 L221.9,289.5 L222.5,289.7 L223.1,289.7 L223.6,289.6 L224.2,289.7 L224.8,289.8 L225.4,289.7 L225.9,289.9 L226.5,289.8 L227.1,289.8 L227.6,289.8 L228.2,289.9 L228.8,289.6 L229.3,289.8 L229.9,289.9 L230.5,289.7 L231.0,289.7 L231.6,289.9" stroke="#2fc84a" stroke-width="1.25" fill="none"/><path d="M183,255.39999999999998 H193" stroke="#2fc84a" stroke-width="1.1"/><text x="194.3" y="257.29999999999995" font-size="5.4" fill="#333" text-anchor="start" font-weight="normal" textLength="33" lengthAdjust="spacingAndGlyphs" stroke="#333" stroke-width="0.07">Nanogap 15 nm</text><rect x="149" y="263.8" width="14.6" height="3.6" fill="#f7d200"/><rect x="149" y="267.40000000000003" width="7" height="4.4" fill="#1ea0e0"/><rect x="149" y="271.8" width="26" height="6.6" fill="#f7d200"/><text x="163.2" y="270.0" font-size="2.6" fill="#555" text-anchor="start" font-weight="normal" textLength="12.7" lengthAdjust="spacingAndGlyphs" stroke="#555" stroke-width="0.07">U=50 nm</text><text x="151.9" y="274.40000000000003" font-size="2.8" fill="#222" text-anchor="start" font-weight="normal" textLength="8.7" lengthAdjust="spacingAndGlyphs" stroke="#222" stroke-width="0.07">15 nm</text><circle cx="151" cy="265.6" r="0.6" fill="#222"/><circle cx="151" cy="272.6" r="0.6" fill="#222"/><rect x="146.4" y="294.3" width="85.19999999999999" height="44.80000000000001" fill="none" stroke="#808080" stroke-width="0.8"/><path d="M146.4,294.3 H231.6" stroke="#555" stroke-width="1.3"/><path d="M183.3,294.3 V339.1" stroke="#8fd0ea" stroke-width="0.45"/><path d="M206.0,294.3 V339.1" stroke="#e8c880" stroke-width="0.45"/><path d="M146.4,335.0 h1.5" stroke="#555" stroke-width="0.5"/><text x="144.6" y="337.1" font-size="5.8" fill="#333" text-anchor="end" font-weight="normal"  stroke="#333" stroke-width="0.07">0.0</text><path d="M146.4,318.9 h1.5" stroke="#555" stroke-width="0.5"/><text x="144.6" y="321.0" font-size="5.8" fill="#333" text-anchor="end" font-weight="normal"  stroke="#333" stroke-width="0.07">0.2</text><path d="M146.4,302.8 h1.5" stroke="#555" stroke-width="0.5"/><text x="144.6" y="304.90000000000003" font-size="5.8" fill="#333" text-anchor="end" font-weight="normal"  stroke="#333" stroke-width="0.07">0.4</text><path d="M146.4,339.1 v-1.2 M146.4,294.3 v1.2" stroke="#555" stroke-width="0.45"/><path d="M153.5,339.1 v-1.2 M153.5,294.3 v1.2" stroke="#555" stroke-width="0.45"/><path d="M160.6,339.1 v-1.2 M160.6,294.3 v1.2" stroke="#555" stroke-width="0.45"/><path d="M167.7,339.1 v-1.2 M167.7,294.3 v1.2" stroke="#555" stroke-width="0.45"/><path d="M174.8,339.1 v-1.2 M174.8,294.3 v1.2" stroke="#555" stroke-width="0.45"/><path d="M181.9,339.1 v-1.2 M181.9,294.3 v1.2" stroke="#555" stroke-width="0.45"/><path d="M189.0,339.1 v-1.2 M189.0,294.3 v1.2" stroke="#555" stroke-width="0.45"/><path d="M196.1,339.1 v-1.2 M196.1,294.3 v1.2" stroke="#555" stroke-width="0.45"/><path d="M203.2,339.1 v-1.2 M203.2,294.3 v1.2" stroke="#555" stroke-width="0.45"/><path d="M210.3,339.1 v-1.2 M210.3,294.3 v1.2" stroke="#555" stroke-width="0.45"/><path d="M217.4,339.1 v-1.2 M217.4,294.3 v1.2" stroke="#555" stroke-width="0.45"/><path d="M224.5,339.1 v-1.2 M224.5,294.3 v1.2" stroke="#555" stroke-width="0.45"/><path d="M231.6,339.1 v-1.2 M231.6,294.3 v1.2" stroke="#555" stroke-width="0.45"/><path d="M146.4,334.7 L147.0,334.7 L147.5,335.0 L148.1,335.0 L148.7,334.7 L149.2,334.8 L149.8,334.8 L150.4,334.9 L150.9,334.8 L151.5,334.8 L152.1,334.8 L152.6,334.9 L153.2,334.8 L153.8,334.8 L154.4,334.7 L154.9,334.6 L155.5,334.7 L156.1,334.8 L156.6,334.8 L157.2,334.9 L157.8,335.0 L158.3,335.0 L158.9,334.9 L159.5,334.9 L160.0,334.9 L160.6,334.8 L161.2,334.9 L161.7,334.8 L162.3,334.9 L162.9,334.8 L163.4,334.5 L164.0,334.2 L164.6,333.7 L165.1,333.0 L165.7,332.4 L166.3,331.9 L166.8,330.8 L167.4,330.1 L168.0,329.3 L168.6,328.6 L169.1,328.3 L169.7,328.0 L170.3,328.2 L170.8,328.2 L171.4,328.7 L172.0,329.5 L172.5,329.8 L173.1,330.4 L173.7,331.0 L174.2,331.3 L174.8,331.5 L175.4,331.3 L175.9,331.3 L176.5,330.7 L177.1,330.1 L177.6,328.9 L178.2,327.6 L178.8,325.9 L179.3,323.7 L179.9,321.0 L180.5,318.1 L181.0,314.9 L181.6,311.6 L182.2,308.5 L182.8,306.0 L183.3,305.2 L183.9,305.5 L184.5,307.5 L185.0,309.9 L185.6,313.0 L186.2,315.6 L186.7,318.2 L187.3,320.4 L187.9,322.2 L188.4,323.5 L189.0,324.6 L189.6,325.4 L190.1,326.0 L190.7,326.3 L191.3,326.4 L191.8,326.7 L192.4,327.1 L193.0,327.0 L193.5,327.2 L194.1,327.3 L194.7,327.6 L195.2,327.6 L195.8,327.9 L196.4,327.7 L197.0,327.8 L197.5,327.7 L198.1,327.3 L198.7,327.3 L199.2,327.0 L199.8,326.8 L200.4,326.9 L200.9,326.7 L201.5,326.1 L202.1,325.6 L202.6,324.5 L203.2,323.1 L203.8,321.0 L204.3,318.9 L204.9,317.3 L205.5,317.8 L206.0,319.8 L206.6,323.0 L207.2,325.6 L207.7,328.3 L208.3,330.2 L208.9,331.5 L209.4,332.8 L210.0,333.4 L210.6,333.7 L211.2,334.1 L211.7,334.4 L212.3,334.2 L212.9,334.5 L213.4,334.6 L214.0,334.6 L214.6,334.5 L215.1,334.5 L215.7,334.8 L216.3,334.7 L216.8,334.8 L217.4,334.7 L218.0,334.6 L218.5,334.7 L219.1,334.6 L219.7,334.7 L220.2,334.7 L220.8,334.7 L221.4,334.8 L221.9,334.9 L222.5,334.8 L223.1,334.9 L223.6,335.0 L224.2,334.9 L224.8,334.7 L225.4,335.0 L225.9,334.8 L226.5,334.9 L227.1,334.9 L227.6,335.0 L228.2,334.7 L228.8,335.0 L229.3,334.8 L229.9,334.9 L230.5,335.0 L231.0,334.9 L231.6,335.0" stroke="#f0483a" stroke-width="1.25" fill="none"/><path d="M183,299.5 H193" stroke="#f0483a" stroke-width="1.1"/><text x="194.3" y="301.4" font-size="5.4" fill="#333" text-anchor="start" font-weight="normal" textLength="33" lengthAdjust="spacingAndGlyphs" stroke="#333" stroke-width="0.07">Nanogap 10 nm</text><rect x="149" y="307.90000000000003" width="14.6" height="3.6" fill="#f7d200"/><rect x="149" y="311.50000000000006" width="7" height="4.4" fill="#1ea0e0"/><rect x="149" y="315.90000000000003" width="26" height="6.6" fill="#f7d200"/><text x="163.2" y="314.1" font-size="2.6" fill="#555" text-anchor="start" font-weight="normal" textLength="12.7" lengthAdjust="spacingAndGlyphs" stroke="#555" stroke-width="0.07">U=50 nm</text><text x="151.9" y="318.50000000000006" font-size="2.8" fill="#222" text-anchor="start" font-weight="normal" textLength="8.7" lengthAdjust="spacingAndGlyphs" stroke="#222" stroke-width="0.07">10 nm</text><circle cx="151" cy="309.70000000000005" r="0.6" fill="#222"/><circle cx="151" cy="316.70000000000005" r="0.6" fill="#222"/><path d="M183.3,339 l-1.3,-2 h2.6 Z" fill="#1ea0e0"/><path d="M206.0,339 l-1.3,-2 h2.6 Z" fill="#e8a000"/><text x="146.4" y="345.2" font-size="5.6" fill="#333" text-anchor="middle" font-weight="normal"  stroke="#333" stroke-width="0.07">3.30</text><text x="160.6" y="345.2" font-size="5.6" fill="#333" text-anchor="middle" font-weight="normal"  stroke="#333" stroke-width="0.07">3.35</text><text x="174.8" y="345.2" font-size="5.6" fill="#333" text-anchor="middle" font-weight="normal"  stroke="#333" stroke-width="0.07">3.40</text><text x="189.0" y="345.2" font-size="5.6" fill="#333" text-anchor="middle" font-weight="normal"  stroke="#333" stroke-width="0.07">3.45</text><text x="203.2" y="345.2" font-size="5.6" fill="#333" text-anchor="middle" font-weight="normal"  stroke="#333" stroke-width="0.07">3.50</text><text x="217.39999999999998" y="345.2" font-size="5.6" fill="#333" text-anchor="middle" font-weight="normal"  stroke="#333" stroke-width="0.07">3.55</text><text x="231.6" y="345.2" font-size="5.6" fill="#333" text-anchor="middle" font-weight="normal"  stroke="#333" stroke-width="0.07">3.60</text><text x="188.9" y="355.5" font-size="6.2" fill="#333" text-anchor="middle" font-weight="normal"  stroke="#333" stroke-width="0.1">Wavelength (μm)</text><text x="0" y="0" font-size="6.2" fill="#333" text-anchor="middle" font-weight="normal" transform="translate(135.0,268.8) rotate(-90)" stroke="#333" stroke-width="0.1">Reflection Difference</text><text x="248" y="190.4" font-size="10" fill="#111" text-anchor="start" font-weight="bold" >(e)</text><defs>
<radialGradient id="peach" cx="307.5" cy="295.5" r="70" gradientUnits="userSpaceOnUse">
<stop offset="0" stop-color="#f2a868" stop-opacity="0.9"/><stop offset="0.3" stop-color="#f8d6ac" stop-opacity="0.7"/><stop offset="0.7" stop-color="#fbe9d0" stop-opacity="0.5"/><stop offset="1" stop-color="#fdf3e6" stop-opacity="0.2"/></radialGradient>
<radialGradient id="rfade" cx="307.5" cy="295.5" r="85" gradientUnits="userSpaceOnUse">
<stop offset="0" stop-color="#fff" stop-opacity="1"/><stop offset="0.5" stop-color="#fff" stop-opacity="0.8"/><stop offset="1" stop-color="#fff" stop-opacity="0.45"/></radialGradient>
<mask id="rmask"><rect x="250" y="200" width="150" height="150" fill="url(#rfade)"/></mask>
<clipPath id="arcclip"><circle cx="318.8" cy="297.7" r="66"/></clipPath>
<linearGradient id="plateTop" x1="0" y1="0" x2="1" y2="1"><stop offset="0" stop-color="#b0d2e2"/><stop offset="0.6" stop-color="#a6cadb"/><stop offset="1" stop-color="#9cc2d3"/></linearGradient>
<radialGradient id="spot" cx="307.5" cy="298.5" r="13" gradientUnits="userSpaceOnUse"><stop offset="0" stop-color="#ee9050" stop-opacity="0.95"/><stop offset="0.65" stop-color="#f2a86a" stop-opacity="0.8"/><stop offset="1" stop-color="#f8c890" stop-opacity="0"/></radialGradient>
</defs><defs><clipPath id="eclip"><path d="M254.52,285.49 L254.54,283.76 L254.61,282.04 L254.73,280.33 L254.89,278.64 L255.10,276.96 L255.35,275.29 L255.65,273.64 L255.99,272.01 L256.38,270.39 L256.82,268.80 L257.30,267.22 L257.82,265.67 L258.38,264.14 L258.99,262.64 L259.65,261.16 L260.34,259.71 L261.08,258.28 L261.86,256.89 L262.68,255.52 L263.54,254.18 L264.44,252.88 L265.38,251.61 L266.35,250.37 L267.37,249.16 L268.42,247.99 L269.51,246.86 L270.63,245.76 L271.78,244.70 L272.98,243.68 L274.20,242.70 L275.45,241.76 L276.74,240.86 L278.06,240.00 L279.40,239.18 L280.78,238.40 L282.18,237.67 L283.60,236.98 L285.06,236.34 L286.53,235.73 L288.03,235.18 L289.55,234.67 L291.10,234.20 L292.66,233.78 L294.24,233.41 L295.84,233.08 L297.45,232.80 L299.08,232.57 L300.72,232.38 L302.38,232.24 L304.05,232.15 L305.72,232.11 L307.41,232.11 L309.11,232.16 L310.81,232.26 L312.52,232.40 L314.23,232.60 L315.94,232.84 L317.66,233.12 L319.37,233.46 L321.09,233.84 L322.80,234.26 L324.52,234.73 L326.22,235.25 L327.92,235.82 L329.62,236.42 L331.30,237.07 L332.98,237.77 L334.64,238.51 L336.30,239.29 L337.94,240.12 L339.57,240.98 L341.18,241.89 L342.77,242.84 L344.35,243.82 L345.91,244.85 L347.45,245.91 L348.97,247.02 L350.46,248.15 L351.94,249.33 L353.39,250.54 L354.81,251.78 L356.21,253.06 L357.58,254.37 L358.92,255.71 L360.23,257.08 L361.51,258.48 L362.76,259.91 L363.98,261.36 L365.17,262.85 L366.32,264.35 L367.44,265.89 L368.52,267.44 L369.56,269.02 L370.57,270.61 L371.54,272.23 L372.48,273.87 L373.37,275.52 L374.22,277.19 L375.04,278.87 L375.81,280.57 L376.54,282.28 L377.23,284.00 L377.88,285.73 L378.48,287.47 L379.04,289.22 L379.56,290.97 L380.03,292.73 L380.46,294.50 L380.84,296.26 L381.18,298.03 L381.47,299.79 L381.72,301.56 L381.92,303.32 L382.07,305.07 L382.18,306.83 L382.25,308.57 L382.26,310.31 L382.23,312.04 L382.16,313.76 L382.04,315.46 L320,360 L250,360 Z"/></clipPath></defs><g clip-path="url(#eclip)"><path d="M307.5,295.5 L307.5,195.5 A100,100 0 0 0 228.7,233.9 Z" fill="url(#peach)"/></g><g clip-path="url(#eclip)" mask="url(#rmask)" opacity="0.75"><path d="M310.5,295.5 L326.7,196.8 A100,100 0 0 0 310.0,195.5 Z" fill="#f47c7c"/><path d="M310.5,295.5 L338.6,199.5 A100,100 0 0 0 325.6,196.7 Z" fill="#f69c70"/><path d="M310.5,295.5 L350.1,203.7 A100,100 0 0 0 337.6,199.2 Z" fill="#f7cc5c"/><path d="M310.5,295.5 L361.0,209.2 A100,100 0 0 0 349.1,203.2 Z" fill="#eeea5a"/><path d="M310.5,295.5 L371.1,216.0 A100,100 0 0 0 360.0,208.6 Z" fill="#b2e85e"/><path d="M310.5,295.5 L380.3,223.9 A100,100 0 0 0 370.3,215.3 Z" fill="#72de72"/><path d="M310.5,295.5 L388.5,233.0 A100,100 0 0 0 379.6,223.2 Z" fill="#6ed0b8"/><path d="M310.5,295.5 L395.6,243.0 A100,100 0 0 0 387.9,232.2 Z" fill="#7c98f0"/><path d="M310.5,295.5 L401.4,253.7 A100,100 0 0 0 395.0,242.1 Z" fill="#9484ee"/><path d="M310.5,295.5 L405.8,265.1 A100,100 0 0 0 400.9,252.8 Z" fill="#b09cee"/></g><polygon points="258.8,315.3 338.3,336.2 338.3,339.2 258.8,318.3" fill="#8fb2c4"/><polygon points="338.3,336.2 346.0,289.9 346.0,292.9 338.3,339.2" fill="#7a9db0"/><polygon points="258.8,315.3 283.1,287.7 346.0,289.9 338.3,336.2" fill="url(#plateTop)"/><ellipse cx="285.1" cy="290.0" rx="1.2" ry="0.5" fill="#c4deea"/><ellipse cx="283.2" cy="292.3" rx="1.2" ry="0.5" fill="#c4deea"/><ellipse cx="281.2" cy="294.7" rx="1.2" ry="0.5" fill="#c4deea"/><ellipse cx="279.2" cy="297.1" rx="1.2" ry="0.5" fill="#c4deea"/><ellipse cx="277.3" cy="299.4" rx="1.2" ry="0.5" fill="#c4deea"/><ellipse cx="275.3" cy="301.8" rx="1.2" ry="0.5" fill="#c4deea"/><ellipse cx="273.3" cy="304.2" rx="1.2" ry="0.5" fill="#c4deea"/><ellipse cx="271.4" cy="306.5" rx="1.2" ry="0.5" fill="#c4deea"/><ellipse cx="269.4" cy="308.9" rx="1.2" ry="0.5" fill="#c4deea"/><ellipse cx="267.4" cy="311.3" rx="1.2" ry="0.5" fill="#c4deea"/><ellipse cx="265.5" cy="313.6" rx="1.2" ry="0.5" fill="#c4deea"/><ellipse cx="263.5" cy="316.0" rx="1.2" ry="0.5" fill="#c4deea"/><ellipse cx="290.4" cy="290.2" rx="1.2" ry="0.5" fill="#c4deea"/><ellipse cx="288.6" cy="292.7" rx="1.2" ry="0.5" fill="#c4deea"/><ellipse cx="286.7" cy="295.2" rx="1.2" ry="0.5" fill="#c4deea"/><ellipse cx="284.9" cy="297.7" rx="1.2" ry="0.5" fill="#c4deea"/><ellipse cx="283.0" cy="300.2" rx="1.2" ry="0.5" fill="#c4deea"/><ellipse cx="281.2" cy="302.7" rx="1.2" ry="0.5" fill="#c4deea"/><ellipse cx="279.3" cy="305.2" rx="1.2" ry="0.5" fill="#c4deea"/><ellipse cx="277.5" cy="307.7" rx="1.2" ry="0.5" fill="#c4deea"/><ellipse cx="275.6" cy="310.2" rx="1.2" ry="0.5" fill="#c4deea"/><ellipse cx="273.8" cy="312.7" rx="1.2" ry="0.5" fill="#c4deea"/><ellipse cx="271.9" cy="315.2" rx="1.2" ry="0.5" fill="#c4deea"/><ellipse cx="270.1" cy="317.7" rx="1.2" ry="0.5" fill="#c4deea"/><ellipse cx="295.7" cy="290.5" rx="1.2" ry="0.5" fill="#c4deea"/><ellipse cx="294.0" cy="293.1" rx="1.2" ry="0.5" fill="#c4deea"/><ellipse cx="292.3" cy="295.7" rx="1.2" ry="0.5" fill="#c4deea"/><ellipse cx="290.5" cy="298.3" rx="1.2" ry="0.5" fill="#c4deea"/><ellipse cx="288.8" cy="301.0" rx="1.2" ry="0.5" fill="#c4deea"/><ellipse cx="287.1" cy="303.6" rx="1.2" ry="0.5" fill="#c4deea"/><ellipse cx="285.3" cy="306.2" rx="1.2" ry="0.5" fill="#c4deea"/><ellipse cx="283.6" cy="308.8" rx="1.2" ry="0.5" fill="#c4deea"/><ellipse cx="281.8" cy="311.5" rx="1.2" ry="0.5" fill="#c4deea"/><ellipse cx="280.1" cy="314.1" rx="1.2" ry="0.5" fill="#c4deea"/><ellipse cx="278.4" cy="316.7" rx="1.2" ry="0.5" fill="#c4deea"/><ellipse cx="276.6" cy="319.3" rx="1.2" ry="0.5" fill="#c4deea"/><ellipse cx="301.0" cy="290.7" rx="1.2" ry="0.5" fill="#c4deea"/><ellipse cx="299.4" cy="293.5" rx="1.2" ry="0.5" fill="#c4deea"/><ellipse cx="297.8" cy="296.2" rx="1.2" ry="0.5" fill="#c4deea"/><ellipse cx="296.2" cy="299.0" rx="1.2" ry="0.5" fill="#c4deea"/><ellipse cx="294.5" cy="301.7" rx="1.2" ry="0.5" fill="#c4deea"/><ellipse cx="292.9" cy="304.5" rx="1.2" ry="0.5" fill="#c4deea"/><ellipse cx="291.3" cy="307.2" rx="1.2" ry="0.5" fill="#c4deea"/><ellipse cx="289.7" cy="310.0" rx="1.2" ry="0.5" fill="#c4deea"/><ellipse cx="288.1" cy="312.8" rx="1.2" ry="0.5" fill="#c4deea"/><ellipse cx="286.4" cy="315.5" rx="1.2" ry="0.5" fill="#c4deea"/><ellipse cx="284.8" cy="318.3" rx="1.2" ry="0.5" fill="#c4deea"/><ellipse cx="283.2" cy="321.0" rx="1.2" ry="0.5" fill="#c4deea"/><ellipse cx="306.3" cy="291.0" rx="1.2" ry="0.5" fill="#c4deea"/><ellipse cx="304.8" cy="293.9" rx="1.2" ry="0.5" fill="#c4deea"/><ellipse cx="303.3" cy="296.7" rx="1.2" ry="0.5" fill="#c4deea"/><ellipse cx="301.8" cy="299.6" rx="1.2" ry="0.5" fill="#c4deea"/><ellipse cx="300.3" cy="302.5" rx="1.2" ry="0.5" fill="#c4deea"/><ellipse cx="298.8" cy="305.4" rx="1.2" ry="0.5" fill="#c4deea"/><ellipse cx="297.3" cy="308.3" rx="1.2" ry="0.5" fill="#c4deea"/><ellipse cx="295.8" cy="311.2" rx="1.2" ry="0.5" fill="#c4deea"/><ellipse cx="294.3" cy="314.0" rx="1.2" ry="0.5" fill="#c4deea"/><ellipse cx="292.8" cy="316.9" rx="1.2" ry="0.5" fill="#c4deea"/><ellipse cx="291.3" cy="319.8" rx="1.2" ry="0.5" fill="#c4deea"/><ellipse cx="289.8" cy="322.7" rx="1.2" ry="0.5" fill="#c4deea"/><ellipse cx="311.6" cy="291.2" rx="1.2" ry="0.5" fill="#c4deea"/><ellipse cx="310.2" cy="294.2" rx="1.2" ry="0.5" fill="#c4deea"/><ellipse cx="308.9" cy="297.2" rx="1.2" ry="0.5" fill="#c4deea"/><ellipse cx="307.5" cy="300.3" rx="1.2" ry="0.5" fill="#c4deea"/><ellipse cx="306.1" cy="303.3" rx="1.2" ry="0.5" fill="#c4deea"/><ellipse cx="304.7" cy="306.3" rx="1.2" ry="0.5" fill="#c4deea"/><ellipse cx="303.3" cy="309.3" rx="1.2" ry="0.5" fill="#c4deea"/><ellipse cx="301.9" cy="312.3" rx="1.2" ry="0.5" fill="#c4deea"/><ellipse cx="300.5" cy="315.3" rx="1.2" ry="0.5" fill="#c4deea"/><ellipse cx="299.1" cy="318.3" rx="1.2" ry="0.5" fill="#c4deea"/><ellipse cx="297.7" cy="321.4" rx="1.2" ry="0.5" fill="#c4deea"/><ellipse cx="296.3" cy="324.4" rx="1.2" ry="0.5" fill="#c4deea"/><ellipse cx="316.9" cy="291.5" rx="1.2" ry="0.5" fill="#c4deea"/><ellipse cx="315.7" cy="294.6" rx="1.2" ry="0.5" fill="#c4deea"/><ellipse cx="314.4" cy="297.8" rx="1.2" ry="0.5" fill="#c4deea"/><ellipse cx="313.1" cy="300.9" rx="1.2" ry="0.5" fill="#c4deea"/><ellipse cx="311.8" cy="304.0" rx="1.2" ry="0.5" fill="#c4deea"/><ellipse cx="310.6" cy="307.2" rx="1.2" ry="0.5" fill="#c4deea"/><ellipse cx="309.3" cy="310.3" rx="1.2" ry="0.5" fill="#c4deea"/><ellipse cx="308.0" cy="313.5" rx="1.2" ry="0.5" fill="#c4deea"/><ellipse cx="306.7" cy="316.6" rx="1.2" ry="0.5" fill="#c4deea"/><ellipse cx="305.5" cy="319.8" rx="1.2" ry="0.5" fill="#c4deea"/><ellipse cx="304.2" cy="322.9" rx="1.2" ry="0.5" fill="#c4deea"/><ellipse cx="302.9" cy="326.0" rx="1.2" ry="0.5" fill="#c4deea"/><ellipse cx="322.2" cy="291.7" rx="1.2" ry="0.5" fill="#c4deea"/><ellipse cx="321.1" cy="295.0" rx="1.2" ry="0.5" fill="#c4deea"/><ellipse cx="319.9" cy="298.3" rx="1.2" ry="0.5" fill="#c4deea"/><ellipse cx="318.8" cy="301.5" rx="1.2" ry="0.5" fill="#c4deea"/><ellipse cx="317.6" cy="304.8" rx="1.2" ry="0.5" fill="#c4deea"/><ellipse cx="316.4" cy="308.1" rx="1.2" ry="0.5" fill="#c4deea"/><ellipse cx="315.3" cy="311.4" rx="1.2" ry="0.5" fill="#c4deea"/><ellipse cx="314.1" cy="314.6" rx="1.2" ry="0.5" fill="#c4deea"/><ellipse cx="312.9" cy="317.9" rx="1.2" ry="0.5" fill="#c4deea"/><ellipse cx="311.8" cy="321.2" rx="1.2" ry="0.5" fill="#c4deea"/><ellipse cx="310.6" cy="324.5" rx="1.2" ry="0.5" fill="#c4deea"/><ellipse cx="309.5" cy="327.7" rx="1.2" ry="0.5" fill="#c4deea"/><ellipse cx="327.5" cy="292.0" rx="1.2" ry="0.5" fill="#c4deea"/><ellipse cx="326.5" cy="295.4" rx="1.2" ry="0.5" fill="#c4deea"/><ellipse cx="325.4" cy="298.8" rx="1.2" ry="0.5" fill="#c4deea"/><ellipse cx="324.4" cy="302.2" rx="1.2" ry="0.5" fill="#c4deea"/><ellipse cx="323.4" cy="305.6" rx="1.2" ry="0.5" fill="#c4deea"/><ellipse cx="322.3" cy="309.0" rx="1.2" ry="0.5" fill="#c4deea"/><ellipse cx="321.3" cy="312.4" rx="1.2" ry="0.5" fill="#c4deea"/><ellipse cx="320.2" cy="315.8" rx="1.2" ry="0.5" fill="#c4deea"/><ellipse cx="319.2" cy="319.2" rx="1.2" ry="0.5" fill="#c4deea"/><ellipse cx="318.1" cy="322.6" rx="1.2" ry="0.5" fill="#c4deea"/><ellipse cx="317.1" cy="326.0" rx="1.2" ry="0.5" fill="#c4deea"/><ellipse cx="316.0" cy="329.4" rx="1.2" ry="0.5" fill="#c4deea"/><ellipse cx="332.8" cy="292.2" rx="1.2" ry="0.5" fill="#c4deea"/><ellipse cx="331.9" cy="295.7" rx="1.2" ry="0.5" fill="#c4deea"/><ellipse cx="331.0" cy="299.3" rx="1.2" ry="0.5" fill="#c4deea"/><ellipse cx="330.0" cy="302.8" rx="1.2" ry="0.5" fill="#c4deea"/><ellipse cx="329.1" cy="306.3" rx="1.2" ry="0.5" fill="#c4deea"/><ellipse cx="328.2" cy="309.9" rx="1.2" ry="0.5" fill="#c4deea"/><ellipse cx="327.3" cy="313.4" rx="1.2" ry="0.5" fill="#c4deea"/><ellipse cx="326.3" cy="316.9" rx="1.2" ry="0.5" fill="#c4deea"/><ellipse cx="325.4" cy="320.5" rx="1.2" ry="0.5" fill="#c4deea"/><ellipse cx="324.5" cy="324.0" rx="1.2" ry="0.5" fill="#c4deea"/><ellipse cx="323.5" cy="327.5" rx="1.2" ry="0.5" fill="#c4deea"/><ellipse cx="322.6" cy="331.1" rx="1.2" ry="0.5" fill="#c4deea"/><ellipse cx="338.1" cy="292.5" rx="1.2" ry="0.5" fill="#c4deea"/><ellipse cx="337.3" cy="296.1" rx="1.2" ry="0.5" fill="#c4deea"/><ellipse cx="336.5" cy="299.8" rx="1.2" ry="0.5" fill="#c4deea"/><ellipse cx="335.7" cy="303.4" rx="1.2" ry="0.5" fill="#c4deea"/><ellipse cx="334.9" cy="307.1" rx="1.2" ry="0.5" fill="#c4deea"/><ellipse cx="334.1" cy="310.8" rx="1.2" ry="0.5" fill="#c4deea"/><ellipse cx="333.2" cy="314.4" rx="1.2" ry="0.5" fill="#c4deea"/><ellipse cx="332.4" cy="318.1" rx="1.2" ry="0.5" fill="#c4deea"/><ellipse cx="331.6" cy="321.8" rx="1.2" ry="0.5" fill="#c4deea"/><ellipse cx="330.8" cy="325.4" rx="1.2" ry="0.5" fill="#c4deea"/><ellipse cx="330.0" cy="329.1" rx="1.2" ry="0.5" fill="#c4deea"/><ellipse cx="329.2" cy="332.8" rx="1.2" ry="0.5" fill="#c4deea"/><ellipse cx="343.4" cy="292.7" rx="1.2" ry="0.5" fill="#c4deea"/><ellipse cx="342.7" cy="296.5" rx="1.2" ry="0.5" fill="#c4deea"/><ellipse cx="342.0" cy="300.3" rx="1.2" ry="0.5" fill="#c4deea"/><ellipse cx="341.3" cy="304.1" rx="1.2" ry="0.5" fill="#c4deea"/><ellipse cx="340.6" cy="307.9" rx="1.2" ry="0.5" fill="#c4deea"/><ellipse cx="339.9" cy="311.7" rx="1.2" ry="0.5" fill="#c4deea"/><ellipse cx="339.2" cy="315.5" rx="1.2" ry="0.5" fill="#c4deea"/><ellipse cx="338.5" cy="319.3" rx="1.2" ry="0.5" fill="#c4deea"/><ellipse cx="337.8" cy="323.1" rx="1.2" ry="0.5" fill="#c4deea"/><ellipse cx="337.1" cy="326.8" rx="1.2" ry="0.5" fill="#c4deea"/><ellipse cx="336.4" cy="330.6" rx="1.2" ry="0.5" fill="#c4deea"/><ellipse cx="335.7" cy="334.4" rx="1.2" ry="0.5" fill="#c4deea"/><ellipse cx="284.7" cy="289.0" rx="1.6" ry="0.9" fill="#3f5668" transform="rotate(15 284.7 289.0)"/><ellipse cx="282.8" cy="291.3" rx="1.6" ry="0.9" fill="#3f5668" transform="rotate(15 282.8 291.3)"/><ellipse cx="280.8" cy="293.7" rx="1.6" ry="0.9" fill="#3f5668" transform="rotate(15 280.8 293.7)"/><ellipse cx="278.8" cy="296.1" rx="1.6" ry="0.9" fill="#3f5668" transform="rotate(15 278.8 296.1)"/><ellipse cx="276.9" cy="298.4" rx="1.6" ry="0.9" fill="#3f5668" transform="rotate(15 276.9 298.4)"/><ellipse cx="274.9" cy="300.8" rx="1.6" ry="0.9" fill="#3f5668" transform="rotate(15 274.9 300.8)"/><ellipse cx="272.9" cy="303.2" rx="1.6" ry="0.9" fill="#3f5668" transform="rotate(15 272.9 303.2)"/><ellipse cx="271.0" cy="305.5" rx="1.6" ry="0.9" fill="#3f5668" transform="rotate(15 271.0 305.5)"/><ellipse cx="269.0" cy="307.9" rx="1.6" ry="0.9" fill="#3f5668" transform="rotate(15 269.0 307.9)"/><ellipse cx="267.0" cy="310.3" rx="1.6" ry="0.9" fill="#3f5668" transform="rotate(15 267.0 310.3)"/><ellipse cx="265.1" cy="312.6" rx="1.6" ry="0.9" fill="#3f5668" transform="rotate(15 265.1 312.6)"/><ellipse cx="263.1" cy="315.0" rx="1.6" ry="0.9" fill="#3f5668" transform="rotate(15 263.1 315.0)"/><ellipse cx="290.0" cy="289.2" rx="1.6" ry="0.9" fill="#3f5668" transform="rotate(15 290.0 289.2)"/><ellipse cx="288.2" cy="291.7" rx="1.6" ry="0.9" fill="#3f5668" transform="rotate(15 288.2 291.7)"/><ellipse cx="286.3" cy="294.2" rx="1.6" ry="0.9" fill="#3f5668" transform="rotate(15 286.3 294.2)"/><ellipse cx="284.5" cy="296.7" rx="1.6" ry="0.9" fill="#3f5668" transform="rotate(15 284.5 296.7)"/><ellipse cx="282.6" cy="299.2" rx="1.6" ry="0.9" fill="#3f5668" transform="rotate(15 282.6 299.2)"/><ellipse cx="280.8" cy="301.7" rx="1.6" ry="0.9" fill="#3f5668" transform="rotate(15 280.8 301.7)"/><ellipse cx="278.9" cy="304.2" rx="1.6" ry="0.9" fill="#3f5668" transform="rotate(15 278.9 304.2)"/><ellipse cx="277.1" cy="306.7" rx="1.6" ry="0.9" fill="#3f5668" transform="rotate(15 277.1 306.7)"/><ellipse cx="275.2" cy="309.2" rx="1.6" ry="0.9" fill="#3f5668" transform="rotate(15 275.2 309.2)"/><ellipse cx="273.4" cy="311.7" rx="1.6" ry="0.9" fill="#3f5668" transform="rotate(15 273.4 311.7)"/><ellipse cx="271.5" cy="314.2" rx="1.6" ry="0.9" fill="#3f5668" transform="rotate(15 271.5 314.2)"/><ellipse cx="269.7" cy="316.7" rx="1.6" ry="0.9" fill="#3f5668" transform="rotate(15 269.7 316.7)"/><ellipse cx="295.3" cy="289.5" rx="1.6" ry="0.9" fill="#3f5668" transform="rotate(15 295.3 289.5)"/><ellipse cx="293.6" cy="292.1" rx="1.6" ry="0.9" fill="#3f5668" transform="rotate(15 293.6 292.1)"/><ellipse cx="291.9" cy="294.7" rx="1.6" ry="0.9" fill="#3f5668" transform="rotate(15 291.9 294.7)"/><ellipse cx="290.1" cy="297.3" rx="1.6" ry="0.9" fill="#3f5668" transform="rotate(15 290.1 297.3)"/><ellipse cx="288.4" cy="300.0" rx="1.6" ry="0.9" fill="#3f5668" transform="rotate(15 288.4 300.0)"/><ellipse cx="286.7" cy="302.6" rx="1.6" ry="0.9" fill="#3f5668" transform="rotate(15 286.7 302.6)"/><ellipse cx="284.9" cy="305.2" rx="1.6" ry="0.9" fill="#3f5668" transform="rotate(15 284.9 305.2)"/><ellipse cx="283.2" cy="307.8" rx="1.6" ry="0.9" fill="#3f5668" transform="rotate(15 283.2 307.8)"/><ellipse cx="281.4" cy="310.5" rx="1.6" ry="0.9" fill="#3f5668" transform="rotate(15 281.4 310.5)"/><ellipse cx="279.7" cy="313.1" rx="1.6" ry="0.9" fill="#3f5668" transform="rotate(15 279.7 313.1)"/><ellipse cx="278.0" cy="315.7" rx="1.6" ry="0.9" fill="#3f5668" transform="rotate(15 278.0 315.7)"/><ellipse cx="276.2" cy="318.3" rx="1.6" ry="0.9" fill="#3f5668" transform="rotate(15 276.2 318.3)"/><ellipse cx="300.6" cy="289.7" rx="1.6" ry="0.9" fill="#3f5668" transform="rotate(15 300.6 289.7)"/><ellipse cx="299.0" cy="292.5" rx="1.6" ry="0.9" fill="#3f5668" transform="rotate(15 299.0 292.5)"/><ellipse cx="297.4" cy="295.2" rx="1.6" ry="0.9" fill="#3f5668" transform="rotate(15 297.4 295.2)"/><ellipse cx="295.8" cy="298.0" rx="1.6" ry="0.9" fill="#3f5668" transform="rotate(15 295.8 298.0)"/><ellipse cx="294.1" cy="300.7" rx="1.6" ry="0.9" fill="#3f5668" transform="rotate(15 294.1 300.7)"/><ellipse cx="292.5" cy="303.5" rx="1.6" ry="0.9" fill="#3f5668" transform="rotate(15 292.5 303.5)"/><ellipse cx="290.9" cy="306.2" rx="1.6" ry="0.9" fill="#3f5668" transform="rotate(15 290.9 306.2)"/><ellipse cx="289.3" cy="309.0" rx="1.6" ry="0.9" fill="#3f5668" transform="rotate(15 289.3 309.0)"/><ellipse cx="287.7" cy="311.8" rx="1.6" ry="0.9" fill="#3f5668" transform="rotate(15 287.7 311.8)"/><ellipse cx="286.0" cy="314.5" rx="1.6" ry="0.9" fill="#3f5668" transform="rotate(15 286.0 314.5)"/><ellipse cx="284.4" cy="317.3" rx="1.6" ry="0.9" fill="#3f5668" transform="rotate(15 284.4 317.3)"/><ellipse cx="282.8" cy="320.0" rx="1.6" ry="0.9" fill="#3f5668" transform="rotate(15 282.8 320.0)"/><ellipse cx="305.9" cy="290.0" rx="1.6" ry="0.9" fill="#3f5668" transform="rotate(15 305.9 290.0)"/><ellipse cx="304.4" cy="292.9" rx="1.6" ry="0.9" fill="#3f5668" transform="rotate(15 304.4 292.9)"/><ellipse cx="302.9" cy="295.7" rx="1.6" ry="0.9" fill="#3f5668" transform="rotate(15 302.9 295.7)"/><ellipse cx="301.4" cy="298.6" rx="1.6" ry="0.9" fill="#3f5668" transform="rotate(15 301.4 298.6)"/><ellipse cx="299.9" cy="301.5" rx="1.6" ry="0.9" fill="#3f5668" transform="rotate(15 299.9 301.5)"/><ellipse cx="298.4" cy="304.4" rx="1.6" ry="0.9" fill="#3f5668" transform="rotate(15 298.4 304.4)"/><ellipse cx="296.9" cy="307.3" rx="1.6" ry="0.9" fill="#3f5668" transform="rotate(15 296.9 307.3)"/><ellipse cx="295.4" cy="310.2" rx="1.6" ry="0.9" fill="#3f5668" transform="rotate(15 295.4 310.2)"/><ellipse cx="293.9" cy="313.0" rx="1.6" ry="0.9" fill="#3f5668" transform="rotate(15 293.9 313.0)"/><ellipse cx="292.4" cy="315.9" rx="1.6" ry="0.9" fill="#3f5668" transform="rotate(15 292.4 315.9)"/><ellipse cx="290.9" cy="318.8" rx="1.6" ry="0.9" fill="#3f5668" transform="rotate(15 290.9 318.8)"/><ellipse cx="289.4" cy="321.7" rx="1.6" ry="0.9" fill="#3f5668" transform="rotate(15 289.4 321.7)"/><ellipse cx="311.2" cy="290.2" rx="1.6" ry="0.9" fill="#3f5668" transform="rotate(15 311.2 290.2)"/><ellipse cx="309.8" cy="293.2" rx="1.6" ry="0.9" fill="#3f5668" transform="rotate(15 309.8 293.2)"/><ellipse cx="308.5" cy="296.2" rx="1.6" ry="0.9" fill="#3f5668" transform="rotate(15 308.5 296.2)"/><ellipse cx="307.1" cy="299.3" rx="1.6" ry="0.9" fill="#3f5668" transform="rotate(15 307.1 299.3)"/><ellipse cx="305.7" cy="302.3" rx="1.6" ry="0.9" fill="#3f5668" transform="rotate(15 305.7 302.3)"/><ellipse cx="304.3" cy="305.3" rx="1.6" ry="0.9" fill="#3f5668" transform="rotate(15 304.3 305.3)"/><ellipse cx="302.9" cy="308.3" rx="1.6" ry="0.9" fill="#3f5668" transform="rotate(15 302.9 308.3)"/><ellipse cx="301.5" cy="311.3" rx="1.6" ry="0.9" fill="#3f5668" transform="rotate(15 301.5 311.3)"/><ellipse cx="300.1" cy="314.3" rx="1.6" ry="0.9" fill="#3f5668" transform="rotate(15 300.1 314.3)"/><ellipse cx="298.7" cy="317.3" rx="1.6" ry="0.9" fill="#3f5668" transform="rotate(15 298.7 317.3)"/><ellipse cx="297.3" cy="320.4" rx="1.6" ry="0.9" fill="#3f5668" transform="rotate(15 297.3 320.4)"/><ellipse cx="295.9" cy="323.4" rx="1.6" ry="0.9" fill="#3f5668" transform="rotate(15 295.9 323.4)"/><ellipse cx="316.5" cy="290.5" rx="1.6" ry="0.9" fill="#3f5668" transform="rotate(15 316.5 290.5)"/><ellipse cx="315.3" cy="293.6" rx="1.6" ry="0.9" fill="#3f5668" transform="rotate(15 315.3 293.6)"/><ellipse cx="314.0" cy="296.8" rx="1.6" ry="0.9" fill="#3f5668" transform="rotate(15 314.0 296.8)"/><ellipse cx="312.7" cy="299.9" rx="1.6" ry="0.9" fill="#3f5668" transform="rotate(15 312.7 299.9)"/><ellipse cx="311.4" cy="303.0" rx="1.6" ry="0.9" fill="#3f5668" transform="rotate(15 311.4 303.0)"/><ellipse cx="310.2" cy="306.2" rx="1.6" ry="0.9" fill="#3f5668" transform="rotate(15 310.2 306.2)"/><ellipse cx="308.9" cy="309.3" rx="1.6" ry="0.9" fill="#3f5668" transform="rotate(15 308.9 309.3)"/><ellipse cx="307.6" cy="312.5" rx="1.6" ry="0.9" fill="#3f5668" transform="rotate(15 307.6 312.5)"/><ellipse cx="306.3" cy="315.6" rx="1.6" ry="0.9" fill="#3f5668" transform="rotate(15 306.3 315.6)"/><ellipse cx="305.1" cy="318.8" rx="1.6" ry="0.9" fill="#3f5668" transform="rotate(15 305.1 318.8)"/><ellipse cx="303.8" cy="321.9" rx="1.6" ry="0.9" fill="#3f5668" transform="rotate(15 303.8 321.9)"/><ellipse cx="302.5" cy="325.0" rx="1.6" ry="0.9" fill="#3f5668" transform="rotate(15 302.5 325.0)"/><ellipse cx="321.8" cy="290.7" rx="1.6" ry="0.9" fill="#3f5668" transform="rotate(15 321.8 290.7)"/><ellipse cx="320.7" cy="294.0" rx="1.6" ry="0.9" fill="#3f5668" transform="rotate(15 320.7 294.0)"/><ellipse cx="319.5" cy="297.3" rx="1.6" ry="0.9" fill="#3f5668" transform="rotate(15 319.5 297.3)"/><ellipse cx="318.4" cy="300.5" rx="1.6" ry="0.9" fill="#3f5668" transform="rotate(15 318.4 300.5)"/><ellipse cx="317.2" cy="303.8" rx="1.6" ry="0.9" fill="#3f5668" transform="rotate(15 317.2 303.8)"/><ellipse cx="316.0" cy="307.1" rx="1.6" ry="0.9" fill="#3f5668" transform="rotate(15 316.0 307.1)"/><ellipse cx="314.9" cy="310.4" rx="1.6" ry="0.9" fill="#3f5668" transform="rotate(15 314.9 310.4)"/><ellipse cx="313.7" cy="313.6" rx="1.6" ry="0.9" fill="#3f5668" transform="rotate(15 313.7 313.6)"/><ellipse cx="312.5" cy="316.9" rx="1.6" ry="0.9" fill="#3f5668" transform="rotate(15 312.5 316.9)"/><ellipse cx="311.4" cy="320.2" rx="1.6" ry="0.9" fill="#3f5668" transform="rotate(15 311.4 320.2)"/><ellipse cx="310.2" cy="323.5" rx="1.6" ry="0.9" fill="#3f5668" transform="rotate(15 310.2 323.5)"/><ellipse cx="309.1" cy="326.7" rx="1.6" ry="0.9" fill="#3f5668" transform="rotate(15 309.1 326.7)"/><ellipse cx="327.1" cy="291.0" rx="1.6" ry="0.9" fill="#3f5668" transform="rotate(15 327.1 291.0)"/><ellipse cx="326.1" cy="294.4" rx="1.6" ry="0.9" fill="#3f5668" transform="rotate(15 326.1 294.4)"/><ellipse cx="325.0" cy="297.8" rx="1.6" ry="0.9" fill="#3f5668" transform="rotate(15 325.0 297.8)"/><ellipse cx="324.0" cy="301.2" rx="1.6" ry="0.9" fill="#3f5668" transform="rotate(15 324.0 301.2)"/><ellipse cx="323.0" cy="304.6" rx="1.6" ry="0.9" fill="#3f5668" transform="rotate(15 323.0 304.6)"/><ellipse cx="321.9" cy="308.0" rx="1.6" ry="0.9" fill="#3f5668" transform="rotate(15 321.9 308.0)"/><ellipse cx="320.9" cy="311.4" rx="1.6" ry="0.9" fill="#3f5668" transform="rotate(15 320.9 311.4)"/><ellipse cx="319.8" cy="314.8" rx="1.6" ry="0.9" fill="#3f5668" transform="rotate(15 319.8 314.8)"/><ellipse cx="318.8" cy="318.2" rx="1.6" ry="0.9" fill="#3f5668" transform="rotate(15 318.8 318.2)"/><ellipse cx="317.7" cy="321.6" rx="1.6" ry="0.9" fill="#3f5668" transform="rotate(15 317.7 321.6)"/><ellipse cx="316.7" cy="325.0" rx="1.6" ry="0.9" fill="#3f5668" transform="rotate(15 316.7 325.0)"/><ellipse cx="315.6" cy="328.4" rx="1.6" ry="0.9" fill="#3f5668" transform="rotate(15 315.6 328.4)"/><ellipse cx="332.4" cy="291.2" rx="1.6" ry="0.9" fill="#3f5668" transform="rotate(15 332.4 291.2)"/><ellipse cx="331.5" cy="294.7" rx="1.6" ry="0.9" fill="#3f5668" transform="rotate(15 331.5 294.7)"/><ellipse cx="330.6" cy="298.3" rx="1.6" ry="0.9" fill="#3f5668" transform="rotate(15 330.6 298.3)"/><ellipse cx="329.6" cy="301.8" rx="1.6" ry="0.9" fill="#3f5668" transform="rotate(15 329.6 301.8)"/><ellipse cx="328.7" cy="305.3" rx="1.6" ry="0.9" fill="#3f5668" transform="rotate(15 328.7 305.3)"/><ellipse cx="327.8" cy="308.9" rx="1.6" ry="0.9" fill="#3f5668" transform="rotate(15 327.8 308.9)"/><ellipse cx="326.9" cy="312.4" rx="1.6" ry="0.9" fill="#3f5668" transform="rotate(15 326.9 312.4)"/><ellipse cx="325.9" cy="315.9" rx="1.6" ry="0.9" fill="#3f5668" transform="rotate(15 325.9 315.9)"/><ellipse cx="325.0" cy="319.5" rx="1.6" ry="0.9" fill="#3f5668" transform="rotate(15 325.0 319.5)"/><ellipse cx="324.1" cy="323.0" rx="1.6" ry="0.9" fill="#3f5668" transform="rotate(15 324.1 323.0)"/><ellipse cx="323.1" cy="326.5" rx="1.6" ry="0.9" fill="#3f5668" transform="rotate(15 323.1 326.5)"/><ellipse cx="322.2" cy="330.1" rx="1.6" ry="0.9" fill="#3f5668" transform="rotate(15 322.2 330.1)"/><ellipse cx="337.7" cy="291.5" rx="1.6" ry="0.9" fill="#3f5668" transform="rotate(15 337.7 291.5)"/><ellipse cx="336.9" cy="295.1" rx="1.6" ry="0.9" fill="#3f5668" transform="rotate(15 336.9 295.1)"/><ellipse cx="336.1" cy="298.8" rx="1.6" ry="0.9" fill="#3f5668" transform="rotate(15 336.1 298.8)"/><ellipse cx="335.3" cy="302.4" rx="1.6" ry="0.9" fill="#3f5668" transform="rotate(15 335.3 302.4)"/><ellipse cx="334.5" cy="306.1" rx="1.6" ry="0.9" fill="#3f5668" transform="rotate(15 334.5 306.1)"/><ellipse cx="333.7" cy="309.8" rx="1.6" ry="0.9" fill="#3f5668" transform="rotate(15 333.7 309.8)"/><ellipse cx="332.8" cy="313.4" rx="1.6" ry="0.9" fill="#3f5668" transform="rotate(15 332.8 313.4)"/><ellipse cx="332.0" cy="317.1" rx="1.6" ry="0.9" fill="#3f5668" transform="rotate(15 332.0 317.1)"/><ellipse cx="331.2" cy="320.8" rx="1.6" ry="0.9" fill="#3f5668" transform="rotate(15 331.2 320.8)"/><ellipse cx="330.4" cy="324.4" rx="1.6" ry="0.9" fill="#3f5668" transform="rotate(15 330.4 324.4)"/><ellipse cx="329.6" cy="328.1" rx="1.6" ry="0.9" fill="#3f5668" transform="rotate(15 329.6 328.1)"/><ellipse cx="328.8" cy="331.8" rx="1.6" ry="0.9" fill="#3f5668" transform="rotate(15 328.8 331.8)"/><ellipse cx="343.0" cy="291.7" rx="1.6" ry="0.9" fill="#3f5668" transform="rotate(15 343.0 291.7)"/><ellipse cx="342.3" cy="295.5" rx="1.6" ry="0.9" fill="#3f5668" transform="rotate(15 342.3 295.5)"/><ellipse cx="341.6" cy="299.3" rx="1.6" ry="0.9" fill="#3f5668" transform="rotate(15 341.6 299.3)"/><ellipse cx="340.9" cy="303.1" rx="1.6" ry="0.9" fill="#3f5668" transform="rotate(15 340.9 303.1)"/><ellipse cx="340.2" cy="306.9" rx="1.6" ry="0.9" fill="#3f5668" transform="rotate(15 340.2 306.9)"/><ellipse cx="339.5" cy="310.7" rx="1.6" ry="0.9" fill="#3f5668" transform="rotate(15 339.5 310.7)"/><ellipse cx="338.8" cy="314.5" rx="1.6" ry="0.9" fill="#3f5668" transform="rotate(15 338.8 314.5)"/><ellipse cx="338.1" cy="318.3" rx="1.6" ry="0.9" fill="#3f5668" transform="rotate(15 338.1 318.3)"/><ellipse cx="337.4" cy="322.1" rx="1.6" ry="0.9" fill="#3f5668" transform="rotate(15 337.4 322.1)"/><ellipse cx="336.7" cy="325.8" rx="1.6" ry="0.9" fill="#3f5668" transform="rotate(15 336.7 325.8)"/><ellipse cx="336.0" cy="329.6" rx="1.6" ry="0.9" fill="#3f5668" transform="rotate(15 336.0 329.6)"/><ellipse cx="335.3" cy="333.4" rx="1.6" ry="0.9" fill="#3f5668" transform="rotate(15 335.3 333.4)"/><path d="M307.5,298.5 L320.5,298.5 A13,13 0 0 0 294.5,298.5 Z" fill="url(#spot)"/><path d="M309.5,295.5 L335,286 L340,300 Z" fill="#7fd08a" opacity="0.35"/><path d="M254.52,285.49 L254.54,283.76 L254.61,282.04 L254.73,280.33 L254.89,278.64 L255.10,276.96 L255.35,275.29 L255.65,273.64 L255.99,272.01 L256.38,270.39 L256.82,268.80 L257.30,267.22 L257.82,265.67 L258.38,264.14 L258.99,262.64 L259.65,261.16 L260.34,259.71 L261.08,258.28 L261.86,256.89 L262.68,255.52 L263.54,254.18 L264.44,252.88 L265.38,251.61 L266.35,250.37 L267.37,249.16 L268.42,247.99 L269.51,246.86 L270.63,245.76 L271.78,244.70 L272.98,243.68 L274.20,242.70 L275.45,241.76 L276.74,240.86 L278.06,240.00 L279.40,239.18 L280.78,238.40 L282.18,237.67 L283.60,236.98 L285.06,236.34 L286.53,235.73 L288.03,235.18 L289.55,234.67 L291.10,234.20 L292.66,233.78 L294.24,233.41 L295.84,233.08 L297.45,232.80 L299.08,232.57 L300.72,232.38 L302.38,232.24 L304.05,232.15 L305.72,232.11 L307.41,232.11 L309.11,232.16 L310.81,232.26 L312.52,232.40 L314.23,232.60 L315.94,232.84 L317.66,233.12 L319.37,233.46 L321.09,233.84 L322.80,234.26 L324.52,234.73 L326.22,235.25 L327.92,235.82 L329.62,236.42 L331.30,237.07 L332.98,237.77 L334.64,238.51 L336.30,239.29 L337.94,240.12 L339.57,240.98 L341.18,241.89 L342.77,242.84 L344.35,243.82 L345.91,244.85 L347.45,245.91 L348.97,247.02 L350.46,248.15 L351.94,249.33 L353.39,250.54 L354.81,251.78 L356.21,253.06 L357.58,254.37 L358.92,255.71 L360.23,257.08 L361.51,258.48 L362.76,259.91 L363.98,261.36 L365.17,262.85 L366.32,264.35 L367.44,265.89 L368.52,267.44 L369.56,269.02 L370.57,270.61 L371.54,272.23 L372.48,273.87 L373.37,275.52 L374.22,277.19 L375.04,278.87 L375.81,280.57 L376.54,282.28 L377.23,284.00 L377.88,285.73 L378.48,287.47 L379.04,289.22 L379.56,290.97 L380.03,292.73 L380.46,294.50 L380.84,296.26 L381.18,298.03 L381.47,299.79 L381.72,301.56 L381.92,303.32 L382.07,305.07 L382.18,306.83 L382.25,308.57 L382.26,310.31 L382.23,312.04 L382.16,313.76 L382.04,315.46" fill="none" stroke="#1a1a1a" stroke-width="1.2" stroke-dasharray="1.9,1.6"/><path d="M262,256 L294.3,290.3" stroke="#1a1a1a" stroke-width="1.05"/><path d="M296.6,292.8 L294.3,286.8 L290.8,290.1 Z" fill="#111"/><path d="M271,245 L297.4,287.2" stroke="#1a1a1a" stroke-width="1.05"/><path d="M299.2,290.1 L298.1,283.7 L294.0,286.3 Z" fill="#111"/><path d="M283,237 L301.2,282.7" stroke="#1a1a1a" stroke-width="1.05"/><path d="M302.5,285.9 L302.5,279.4 L298.0,281.2 Z" fill="#111"/><path d="M295.3,233.8 L304.2,281.9" stroke="#1a1a1a" stroke-width="1.05"/><path d="M304.8,285.2 L306.1,278.9 L301.4,279.8 Z" fill="#111"/><path d="M307.5,242.6 V298.6" stroke="#1a1a1a" stroke-width="1.0"/><path d="M295.8,297 A11.6,11.6 0 0 1 318.6,295" fill="none" stroke="#1a1a1a" stroke-width="1.05"/><path d="M282.6,281.5 A31,31 0 0 1 303,265" fill="none" stroke="#222" stroke-width="0.8"/><path d="M306.2,264.3 L302.2,262.2 L302.6,267 Z M281,284.6 L280.6,279.8 L284.8,281.6 Z" fill="#111"/><text x="258.8" y="253.3" font-size="5.4" fill="#222" text-anchor="middle" font-weight="normal"  stroke="#222" stroke-width="0.07">θ<tspan font-size="2.8" dy="1">4</tspan></text><text x="269.4" y="241.2" font-size="5.4" fill="#222" text-anchor="middle" font-weight="normal"  stroke="#222" stroke-width="0.07">θ<tspan font-size="2.8" dy="1">3</tspan></text><text x="280.9" y="233.5" font-size="5.4" fill="#222" text-anchor="middle" font-weight="normal"  stroke="#222" stroke-width="0.07">θ<tspan font-size="2.8" dy="1">2</tspan></text><text x="294.2" y="229.1" font-size="5.4" fill="#222" text-anchor="middle" font-weight="normal"  stroke="#222" stroke-width="0.07">θ<tspan font-size="2.8" dy="1">1</tspan></text><text x="267.7" y="279.0" font-size="6.0" fill="#222" text-anchor="middle" font-weight="normal" textLength="20" lengthAdjust="spacingAndGlyphs" stroke="#222" stroke-width="0.1">Variable</text><text x="268.8" y="286.6" font-size="6.0" fill="#222" text-anchor="middle" font-weight="normal" textLength="17.5" lengthAdjust="spacingAndGlyphs" stroke="#222" stroke-width="0.1">angle θ</text><path d="M309.2,287.2 L327.5,241.4" stroke="#f03030" stroke-width="1.3"/><path d="M328.6,238.6 L325.4,241.2 L329.1,242.7 Z" fill="#f03030"/><text x="331" y="234.4" font-size="5.4" fill="#f03030" text-anchor="middle" font-weight="normal"  stroke="#f03030" stroke-width="0.07">θ<tspan font-size="2.8" dy="1">1</tspan></text><path d="M314,288 L339.4,248.5" stroke="#f5c000" stroke-width="1.3"/><path d="M341,246 L337.4,247.9 L340.7,250.1 Z" fill="#f5c000"/><text x="345.3" y="242" font-size="5.4" fill="#f5c000" text-anchor="middle" font-weight="normal"  stroke="#f5c000" stroke-width="0.07">θ<tspan font-size="2.8" dy="1">2</tspan></text><path d="M317.9,293.3 L353.8,259.4" stroke="#19b530" stroke-width="1.3"/><path d="M356,257.3 L352.0,258.3 L354.8,261.2 Z" fill="#19b530"/><text x="361" y="254.3" font-size="5.4" fill="#19b530" text-anchor="middle" font-weight="normal"  stroke="#19b530" stroke-width="0.07">θ<tspan font-size="2.8" dy="1">3</tspan></text><path d="M319.4,297.9 L368.2,274.8" stroke="#1f55e0" stroke-width="1.3"/><path d="M370.9,273.5 L366.8,273.2 L368.5,276.8 Z" fill="#1f55e0"/><text x="374.6" y="274.2" font-size="5.4" fill="#1f55e0" text-anchor="middle" font-weight="normal"  stroke="#1f55e0" stroke-width="0.07">θ<tspan font-size="2.8" dy="1">4</tspan></text><text x="398.8" y="192.2" font-size="10" fill="#111" text-anchor="start" font-weight="bold" >(f)</text><text x="429.0" y="217.6" font-size="3.6" fill="#2b4c8c" text-anchor="start" font-weight="normal" stroke="none">NH<tspan font-size="2.4" dy="-1">2</tspan></text><text x="436.6" y="218.9" font-size="5.9" fill="#2b4c8c" text-anchor="start" font-weight="normal" stroke="#2b4c8c" stroke-width="0.08">Polylysine</text><path d="M431.2,219 L430.6,222 L432.8,224.5 L432.2,227.5 L434.4,230 L434.2,232.2 M429.6,235.2 L434.2,232.2 L439,235.4 L443.6,232.4 M433.6,232.8 V238.4 M434.9,232.8 V238.4" stroke="#2b4c8c" stroke-width="0.65" fill="none"/><path d="M430.2,228.4 h-1.3 V243.4 h1.3 M442.6,228.4 h1.3 V243.4 h-1.3" stroke="#2b4c8c" stroke-width="0.65" fill="none"/><text x="433.6" y="242.4" font-size="3.4" fill="#2b4c8c" text-anchor="middle" font-weight="normal" stroke="none">O</text><text x="439.4" y="241.6" font-size="3.0" fill="#2b4c8c" text-anchor="middle" font-weight="normal" stroke="none">H</text><text x="446.0" y="244.2" font-size="3.4" fill="#2b4c8c" text-anchor="middle" font-weight="normal" stroke="none">n</text><text x="460.3" y="233.6" font-size="6.2" fill="#333" text-anchor="middle" font-weight="normal"  stroke="#333" stroke-width="0.1">+</text><text x="498.5" y="233.8" font-size="6.2" fill="#333" text-anchor="middle" font-weight="normal"  stroke="#333" stroke-width="0.1">+</text><path d="M466.50,215.20 C467.17,215.10 469.17,214.37 470.50,214.60 C471.83,214.83 473.55,215.45 474.50,216.60 C475.45,217.75 475.45,219.90 476.20,221.50 C476.95,223.10 477.82,225.08 479.00,226.20 C480.18,227.32 482.27,227.03 483.30,228.20 C484.33,229.37 484.45,231.83 485.20,233.20 C485.95,234.57 486.80,235.70 487.80,236.40 C488.80,237.10 490.02,236.57 491.20,237.40 C492.38,238.23 494.28,240.73 494.90,241.40" stroke="#e4607a" stroke-width="1.9" fill="none" stroke-linecap="round" opacity="0.8"/><path d="M466.50,216.10 C467.30,215.88 469.91,214.81 471.29,214.75 C472.67,214.69 474.07,214.70 474.77,215.75 C475.47,216.80 474.88,219.20 475.50,221.06 C476.12,222.92 477.11,225.59 478.49,226.90 C479.88,228.20 482.59,227.91 483.83,228.88 C485.06,229.85 485.27,231.62 485.88,232.73 C486.50,233.85 486.75,234.75 487.51,235.56 C488.26,236.37 489.18,236.46 490.42,237.58 C491.65,238.71 494.18,241.51 494.93,242.30" stroke="#b0203c" stroke-width="0.8" fill="none" stroke-linecap="round"/><path d="M466.50,215.20 C467.17,215.10 469.17,214.37 470.50,214.60 C471.83,214.83 473.55,215.45 474.50,216.60 C475.45,217.75 475.45,219.90 476.20,221.50 C476.95,223.10 477.82,225.08 479.00,226.20 C480.18,227.32 482.27,227.03 483.30,228.20 C484.33,229.37 484.45,231.83 485.20,233.20 C485.95,234.57 486.80,235.70 487.80,236.40 C488.80,237.10 490.02,236.57 491.20,237.40 C492.38,238.23 494.28,240.73 494.90,241.40" stroke="#5a2030" stroke-width="0.45" fill="none" stroke-dasharray="2.5,3.5" opacity="0.7"/><text x="472.6" y="242.3" font-size="5.6" fill="#d42a48" text-anchor="middle" font-weight="normal" stroke="none">ssDNA</text><text x="518" y="218.7" font-size="5.5" fill="#f5b52a" text-anchor="middle" font-weight="normal" stroke="none">ODAM protein</text><circle cx="512.3" cy="229.8" r="2.6" fill="#eea61e"/><circle cx="510.1" cy="227.6" r="2.7" fill="#eea61e"/><circle cx="511.6" cy="225.6" r="2.5" fill="#eea61e"/><circle cx="510.9" cy="227.5" r="2.3" fill="#eea61e"/><circle cx="510.7" cy="227.4" r="2.7" fill="#eea61e"/><circle cx="511.0" cy="228.4" r="2.0" fill="#eea61e"/><circle cx="513.8" cy="227.4" r="2.8" fill="#eea61e"/><circle cx="510.8" cy="227.4" r="2.3" fill="#eea61e"/><circle cx="510.4" cy="227.5" r="2.9" fill="#eea61e"/><circle cx="510.9" cy="227.5" r="3.9000000000000004" fill="#f0ab22"/><circle cx="524.3" cy="227.2" r="2.7" fill="#eea61e"/><circle cx="527.3" cy="229.4" r="2.4" fill="#eea61e"/><circle cx="523.4" cy="226.4" r="2.4" fill="#eea61e"/><circle cx="524.8" cy="226.9" r="2.8" fill="#eea61e"/><circle cx="525.0" cy="229.8" r="2.2" fill="#eea61e"/><circle cx="528.1" cy="226.1" r="2.7" fill="#eea61e"/><circle cx="524.9" cy="224.5" r="2.7" fill="#eea61e"/><circle cx="526.0" cy="228.1" r="2.7" fill="#eea61e"/><circle cx="525.8" cy="230.2" r="2.8" fill="#eea61e"/><circle cx="524.7" cy="226.8" r="3.9000000000000004" fill="#f0ab22"/><circle cx="517.0" cy="237.2" r="2.4" fill="#eea61e"/><circle cx="515.4" cy="239.0" r="2.3" fill="#eea61e"/><circle cx="518.5" cy="236.6" r="2.6" fill="#eea61e"/><circle cx="520.1" cy="236.4" r="2.4" fill="#eea61e"/><circle cx="515.5" cy="235.6" r="2.2" fill="#eea61e"/><circle cx="516.6" cy="235.2" r="2.6" fill="#eea61e"/><circle cx="518.5" cy="237.1" r="2.3" fill="#eea61e"/><circle cx="519.4" cy="235.9" r="2.5" fill="#eea61e"/><circle cx="518.1" cy="236.9" r="2.1" fill="#eea61e"/><circle cx="518.2" cy="236.5" r="3.75" fill="#f0ab22"/><circle cx="518.4" cy="227.2" r="2.3" fill="#eea61e"/><circle cx="516.6" cy="227.6" r="2.8" fill="#eea61e"/><circle cx="518.7" cy="229.2" r="2.9" fill="#eea61e"/><circle cx="519.3" cy="229.0" r="2.8" fill="#eea61e"/><circle cx="516.3" cy="229.6" r="2.2" fill="#eea61e"/><circle cx="517.9" cy="229.1" r="2.1" fill="#eea61e"/><circle cx="518.3" cy="227.2" r="2.4" fill="#eea61e"/><circle cx="517.6" cy="229.4" r="2.2" fill="#eea61e"/><circle cx="517.2" cy="230.8" r="2.2" fill="#eea61e"/><circle cx="517.5" cy="229.5" r="3.1500000000000004" fill="#f0ab22"/><circle cx="517.5" cy="229.5" r="1.0" fill="#f8d890"/><circle cx="518" cy="235.5" r="1.0" fill="#f8d890"/><path d="M417.5,247.7 H530.9 V319.1 H417.5 Z" fill="none" stroke="#444" stroke-width="0.8"/><path d="M417.5,247.7 H530.9" stroke="#333" stroke-width="1.0"/><path d="M475,247.7 V319.1" stroke="#555" stroke-width="0.7" stroke-dasharray="0.9,1.1"/><path d="M417.5,315.3 h1.4" stroke="#444" stroke-width="0.5"/><text x="415.2" y="317.40000000000003" font-size="6.0" fill="#333" text-anchor="end" font-weight="normal" textLength="2.6" lengthAdjust="spacingAndGlyphs" stroke="#333" stroke-width="0.1">0</text><path d="M417.5,299.6 h1.4" stroke="#444" stroke-width="0.5"/><text x="415.2" y="301.65000000000003" font-size="6.0" fill="#333" text-anchor="end" font-weight="normal" textLength="5.2" lengthAdjust="spacingAndGlyphs" stroke="#333" stroke-width="0.1">50</text><path d="M417.5,283.8 h1.4" stroke="#444" stroke-width="0.5"/><text x="415.2" y="285.90000000000003" font-size="6.0" fill="#333" text-anchor="end" font-weight="normal" textLength="7.8" lengthAdjust="spacingAndGlyphs" stroke="#333" stroke-width="0.1">100</text><path d="M417.5,268.1 h1.4" stroke="#444" stroke-width="0.5"/><text x="415.2" y="270.15000000000003" font-size="6.0" fill="#333" text-anchor="end" font-weight="normal" textLength="7.8" lengthAdjust="spacingAndGlyphs" stroke="#333" stroke-width="0.1">150</text><path d="M417.5,252.3 h1.4" stroke="#444" stroke-width="0.5"/><text x="415.2" y="254.4" font-size="6.0" fill="#333" text-anchor="end" font-weight="normal" textLength="7.8" lengthAdjust="spacingAndGlyphs" stroke="#333" stroke-width="0.1">200</text><path d="M435.0,319.1 v-1.4" stroke="#444" stroke-width="0.5"/><text x="435.0" y="325.0" font-size="6.2" fill="#333" text-anchor="middle" font-weight="normal" textLength="11.2" lengthAdjust="spacingAndGlyphs" stroke="#333" stroke-width="0.1">1200</text><path d="M465.5,319.1 v-1.4" stroke="#444" stroke-width="0.5"/><text x="465.5" y="325.0" font-size="6.2" fill="#333" text-anchor="middle" font-weight="normal" textLength="11.2" lengthAdjust="spacingAndGlyphs" stroke="#333" stroke-width="0.1">1400</text><path d="M496.0,319.1 v-1.4" stroke="#444" stroke-width="0.5"/><text x="496.0" y="325.0" font-size="6.2" fill="#333" text-anchor="middle" font-weight="normal" textLength="11.2" lengthAdjust="spacingAndGlyphs" stroke="#333" stroke-width="0.1">1600</text><path d="M526.5,319.1 v-1.4" stroke="#444" stroke-width="0.5"/><text x="526.5" y="325.0" font-size="6.2" fill="#333" text-anchor="middle" font-weight="normal" textLength="11.2" lengthAdjust="spacingAndGlyphs" stroke="#333" stroke-width="0.1">1800</text><path d="M450.2,319.1 v-0.9" stroke="#444" stroke-width="0.5"/><path d="M480.8,319.1 v-0.9" stroke="#444" stroke-width="0.5"/><path d="M511.2,319.1 v-0.9" stroke="#444" stroke-width="0.5"/><text x="474" y="334.6" font-size="7.0" fill="#333" text-anchor="middle" font-weight="normal" textLength="49" lengthAdjust="spacingAndGlyphs" stroke="#333" stroke-width="0.1">Wave number (cm<tspan font-size="4.2" dy="-2.4">−1</tspan><tspan dy="2.4">)</tspan></text><text x="0" y="0" font-size="6.9" fill="#333" text-anchor="middle" font-weight="normal" transform="translate(404.9,282) rotate(-90)" stroke="#333" stroke-width="0.1">AFR signal (a.u.)</text><path d="M417.5,259.4 H427" stroke="#2b4c8c" stroke-width="1.3"/><path d="M431.5,255.5 H446.3" stroke="#d42a48" stroke-width="1.3"/><path d="M449.8,259.4 H463.5" stroke="#2b4c8c" stroke-width="1.3"/><path d="M481.9,252 H491.1" stroke="#f5b52a" stroke-width="1.3"/><path d="M499.8,252 H512.2" stroke="#f5b52a" stroke-width="1.3"/><path d="M496.8,255.4 H514.2" stroke="#d42a48" stroke-width="1.3"/><path d="M481.9,258.7 H491.8" stroke="#2b4c8c" stroke-width="1.3"/><path d="M498.6,258.7 H514.2" stroke="#2b4c8c" stroke-width="1.3"/><rect x="517" y="249" width="30" height="14" fill="#fff"/><text x="531.3" y="254.3" font-size="5.6" fill="#333" text-anchor="middle" font-weight="normal"  stroke="#333" stroke-width="0.07">Absorption</text><text x="532.5" y="262.4" font-size="5.6" fill="#333" text-anchor="middle" font-weight="normal"  stroke="#333" stroke-width="0.07">bands</text><path d="M417.50,292.00 C417.64,292.19 418.07,292.63 418.35,293.13 C418.63,293.63 418.87,295.44 419.20,295.00 C419.53,294.56 419.97,292.11 420.35,290.50 C420.73,288.88 421.10,285.73 421.50,285.30 C421.90,284.87 422.33,287.13 422.75,287.91 C423.17,288.70 423.45,288.88 424.00,290.00 C424.55,291.12 425.37,292.99 426.05,294.61 C426.73,296.22 427.43,298.08 428.10,299.70 C428.77,301.32 429.40,302.80 430.05,304.35 C430.70,305.90 431.35,307.63 432.00,309.00 C432.65,310.37 433.30,311.35 433.95,312.55 C434.60,313.75 435.32,315.62 435.90,316.20 C436.48,316.78 436.93,316.12 437.45,316.00 C437.97,315.88 438.41,315.99 439.00,315.50 C439.59,315.01 440.33,313.96 441.00,313.04 C441.67,312.12 442.25,310.97 443.00,310.00 C443.75,309.03 444.67,307.99 445.50,307.19 C446.33,306.39 447.08,305.88 448.00,305.20 C448.92,304.52 450.00,303.66 451.00,303.13 C452.00,302.60 452.98,302.23 454.00,302.00 C455.02,301.77 456.07,301.94 457.10,301.74 C458.13,301.54 459.18,300.78 460.20,300.80 C461.22,300.82 462.20,301.47 463.20,301.83 C464.20,302.20 465.70,302.81 466.20,303.00" stroke="#2b4c8c" stroke-width="1.15" fill="none"/><path d="M417.50,288.00 C417.62,288.41 418.00,289.79 418.25,290.46 C418.50,291.12 418.67,292.33 419.00,292.00 C419.33,291.67 419.83,289.78 420.25,288.45 C420.67,287.11 421.04,284.23 421.50,284.00 C421.96,283.77 422.50,285.89 423.00,287.06 C423.50,288.22 423.96,289.83 424.50,291.00 C425.04,292.17 425.67,292.92 426.25,294.08 C426.83,295.25 427.38,296.51 428.00,298.00 C428.62,299.49 429.33,301.47 430.00,303.04 C430.67,304.60 431.42,306.87 432.00,307.40 C432.58,307.93 433.00,306.67 433.50,306.19 C434.00,305.70 434.54,304.71 435.00,304.50 C435.46,304.29 435.83,304.84 436.25,304.92 C436.67,305.00 437.00,305.14 437.50,305.00 C438.00,304.86 438.67,304.31 439.25,304.06 C439.83,303.81 440.38,303.53 441.00,303.50 C441.62,303.47 442.33,303.77 443.00,303.86 C443.67,303.94 444.08,304.12 445.00,304.00 C445.92,303.88 447.33,303.44 448.50,303.11 C449.67,302.77 450.75,302.38 452.00,302.00 C453.25,301.62 454.67,301.25 456.00,300.83 C457.33,300.41 458.83,299.40 460.00,299.50 C461.17,299.60 462.00,300.66 463.00,301.41 C464.00,302.16 465.50,303.57 466.00,304.00" stroke="#d42a48" stroke-width="1.15" fill="none"/><path d="M417.50,287.00 C417.67,286.62 418.17,285.40 418.50,284.74 C418.83,284.07 419.12,284.01 419.50,283.00 C419.88,281.99 420.33,280.14 420.75,278.69 C421.17,277.24 421.67,274.41 422.00,274.30 C422.33,274.19 422.50,276.74 422.75,278.02 C423.00,279.30 423.25,281.40 423.50,282.00 C423.75,282.60 424.00,281.77 424.25,281.60 C424.50,281.44 424.62,279.91 425.00,281.00 C425.38,282.09 426.00,285.79 426.50,288.13 C427.00,290.46 427.33,292.80 428.00,295.00 C428.67,297.20 429.67,299.07 430.50,301.32 C431.33,303.57 432.25,307.55 433.00,308.50 C433.75,309.45 434.33,307.35 435.00,307.01 C435.67,306.68 436.00,306.82 437.00,306.50 C438.00,306.18 439.67,305.67 441.00,305.09 C442.33,304.50 443.75,303.47 445.00,303.00 C446.25,302.53 447.33,302.43 448.50,302.26 C449.67,302.09 450.75,302.34 452.00,302.00 C453.25,301.66 454.67,300.73 456.00,300.23 C457.33,299.73 458.83,298.79 460.00,299.00 C461.17,299.21 462.00,300.83 463.00,301.50 C464.00,302.16 465.50,302.75 466.00,303.00" stroke="#f5b52a" stroke-width="1.15" fill="none"/><path d="M479.40,308.50 C479.92,307.33 481.38,303.33 482.50,301.50 C483.62,299.67 484.85,297.50 486.10,297.50 C487.35,297.50 488.55,300.00 490.00,301.50 C491.45,303.00 493.22,306.83 494.80,306.50 C496.38,306.17 497.75,301.75 499.50,299.50 C501.25,297.25 503.55,293.58 505.30,293.00 C507.05,292.42 508.55,294.75 510.00,296.00 C511.45,297.25 512.50,299.33 514.00,300.50 C515.50,301.67 517.43,301.92 519.00,303.00 C520.57,304.08 522.27,305.75 523.40,307.00 C524.53,308.25 525.40,309.92 525.80,310.50" stroke="#2b4c8c" stroke-width="1.15" fill="none"/><path d="M479.40,306.50 C479.92,305.42 481.38,301.67 482.50,300.00 C483.62,298.33 484.93,296.58 486.10,296.50 C487.27,296.42 488.38,298.75 489.50,299.50 C490.62,300.25 491.38,302.17 492.80,301.00 C494.22,299.83 496.00,295.17 498.00,292.50 C500.00,289.83 502.88,285.83 504.80,285.00 C506.72,284.17 507.97,286.33 509.50,287.50 C511.03,288.67 512.42,290.25 514.00,292.00 C515.58,293.75 517.50,296.00 519.00,298.00 C520.50,300.00 521.87,301.92 523.00,304.00 C524.13,306.08 525.33,309.42 525.80,310.50" stroke="#d42a48" stroke-width="1.15" fill="none"/><path d="M479.40,305.50 C479.92,303.42 481.25,296.17 482.50,293.00 C483.75,289.83 485.73,287.00 486.90,286.50 C488.07,286.00 488.65,289.00 489.50,290.00 C490.35,291.00 490.83,293.83 492.00,292.50 C493.17,291.17 495.08,285.67 496.50,282.00 C497.92,278.33 499.12,273.13 500.50,270.50 C501.88,267.87 503.47,266.28 504.80,266.20 C506.13,266.12 507.05,266.87 508.50,270.00 C509.95,273.13 511.75,280.17 513.50,285.00 C515.25,289.83 517.00,294.67 519.00,299.00 C521.00,303.33 524.42,309.00 525.50,311.00" stroke="#f5b52a" stroke-width="1.15" fill="none"/>
</svg></body></html>
